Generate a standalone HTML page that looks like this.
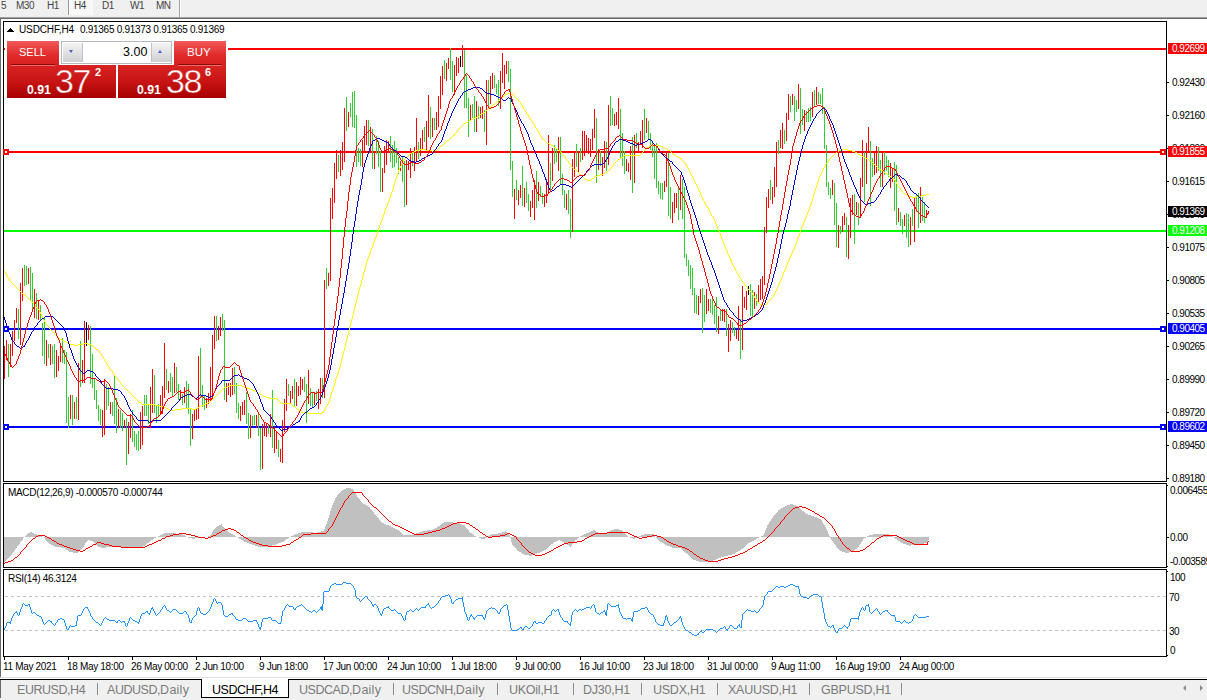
<!DOCTYPE html>
<html><head><meta charset="utf-8"><title>USDCHF,H4</title><style>
html,body{margin:0;padding:0;background:#fff;}
body{width:1207px;height:700px;position:relative;overflow:hidden;font-family:"Liberation Sans",sans-serif;}
.a{position:absolute;}
.t{position:absolute;white-space:nowrap;line-height:1;color:#000;}
.ax{font-size:10px;letter-spacing:-0.5px;}
.sm{font-size:10px;letter-spacing:-0.32px;}
.lbl{position:absolute;left:1168px;width:39px;height:11px;}
.lbl span{position:absolute;left:4px;top:1px;font-size:10px;letter-spacing:-0.5px;line-height:1;color:#fff;white-space:nowrap;}
.tab{position:absolute;top:683px;font-size:12.5px;letter-spacing:-0.45px;color:#7a7a7a;white-space:nowrap;line-height:14px;}
.sep{position:absolute;top:683px;width:1px;height:12px;background:#8a8a8a;}
.tb{position:absolute;top:0px;font-size:10px;letter-spacing:-0.5px;color:#444;white-space:nowrap;line-height:12px;}
</style></head><body>
<div class="a" style="left:0;top:0;width:1207px;height:17px;background:#f0f0f0"></div>
<div class="a" style="left:0;top:17px;width:1207px;height:1px;background:#a0a0a0"></div>
<div class="a" style="left:0;top:18px;width:1207px;height:1px;background:#696969"></div>
<div class="a" style="left:69px;top:0;width:24px;height:15px;background:#f8f8f8"></div>
<div class="a" style="left:68px;top:0;width:1px;height:15px;background:#9a9a9a"></div>
<div class="a" style="left:179px;top:0;width:1px;height:17px;background:#a0a0a0"></div>
<div class="a" style="left:180px;top:0;width:1px;height:17px;background:#fff"></div>
<div class="tb" style="left:1px">5</div>
<div class="tb" style="left:16px">M30</div>
<div class="tb" style="left:47px">H1</div>
<div class="tb" style="left:74px">H4</div>
<div class="tb" style="left:102px">D1</div>
<div class="tb" style="left:130px">W1</div>
<div class="tb" style="left:156px">MN</div>
<div class="a" style="left:0;top:19px;width:1px;height:659px;background:#696969"></div>
<div class="a" style="left:3px;top:21px;width:1163px;height:1px;background:#000"></div>
<div class="a" style="left:3px;top:481px;width:1163px;height:1px;background:#000"></div>
<div class="a" style="left:3px;top:483px;width:1163px;height:1px;background:#000"></div>
<div class="a" style="left:3px;top:567px;width:1163px;height:1px;background:#000"></div>
<div class="a" style="left:3px;top:569px;width:1163px;height:1px;background:#000"></div>
<div class="a" style="left:3px;top:656px;width:1164px;height:1px;background:#000"></div>
<div class="a" style="left:3px;top:21px;width:1px;height:461px;background:#000"></div>
<div class="a" style="left:3px;top:483px;width:1px;height:85px;background:#000"></div>
<div class="a" style="left:3px;top:569px;width:1px;height:88px;background:#000"></div>
<div class="a" style="left:1166px;top:21px;width:1px;height:461px;background:#000"></div>
<div class="a" style="left:1166px;top:483px;width:1px;height:85px;background:#000"></div>
<div class="a" style="left:1166px;top:569px;width:1px;height:88px;background:#000"></div>
<div class="a" style="left:1167px;top:485px;width:1px;height:1px;background:#000"></div>
<div class="a" style="left:1167px;top:566px;width:1px;height:1px;background:#000"></div>
<div class="a" style="left:1167px;top:571px;width:1px;height:1px;background:#000"></div>
<div class="a" style="left:1167px;top:655px;width:1px;height:1px;background:#000"></div>
<svg class="a" style="left:0;top:0" width="1207" height="700" viewBox="0 0 1207 700">
<g shape-rendering="crispEdges">
<rect x="4" y="48" width="1162" height="2" fill="#ff0000"/>
<rect x="4" y="151" width="1162" height="2" fill="#ff0000"/>
<rect x="4" y="230" width="1162" height="2" fill="#00ff00"/>
<rect x="4" y="328" width="1162" height="2" fill="#0000ff"/>
<rect x="4" y="426" width="1162" height="2" fill="#0000ff"/>
<path d="M8.5 344V377M18.5 309V339M24.5 265V286M26.5 266V285M30.5 267V301M32.5 273V312M36.5 293V319M40.5 305V321M42.5 323V356M44.5 317V364M48.5 344V358M52.5 346V364M54.5 344V378M62.5 338V363M64.5 350V364M66.5 352V423M68.5 397V428M72.5 395V425M76.5 397V419M80.5 341V387M90.5 326V384M92.5 354V388M94.5 378V400M96.5 390V409M98.5 405V421M100.5 409V425M106.5 384V410M108.5 387V406M112.5 402V416M114.5 376V424M116.5 398V433M120.5 410V428M122.5 413V431M126.5 418V465M132.5 410V442M134.5 431V447M136.5 434V450M138.5 431V451M144.5 395V416M146.5 395V416M148.5 404V424M154.5 375V413M156.5 405V423M158.5 404V417M166.5 369V390M170.5 373V392M172.5 377V397M176.5 367V392M178.5 384V400M182.5 394V405M186.5 381V408M188.5 384V414M190.5 409V446M200.5 348V397M202.5 385V407M204.5 396V410M216.5 316V341M222.5 314V331M224.5 320V400M234.5 367V394M236.5 383V413M238.5 403V419M246.5 392V424M248.5 413V439M252.5 416V426M254.5 415V425M258.5 413V436M260.5 428V470M268.5 424V434M272.5 390V448M278.5 440V457M288.5 384V396M294.5 379V407M304.5 377V392M306.5 384V423M310.5 388V406M312.5 393V407M316.5 391V401M322.5 378V398M326.5 268V289M338.5 155V172M346.5 97V131M350.5 103V117M352.5 92V127M354.5 91V128M356.5 115V167M358.5 148V162M360.5 149V166M368.5 120V146M372.5 129V169M376.5 136V154M378.5 141V167M380.5 151V192M390.5 136V162M392.5 145V168M394.5 141V167M396.5 148V163M398.5 157V174M402.5 157V182M404.5 161V207M412.5 152V166M418.5 142V159M424.5 127V142M430.5 107V139M434.5 118V130M444.5 60V79M450.5 48V80M452.5 61V92M464.5 50V108M466.5 75V108M468.5 98V137M472.5 104V118M474.5 96V132M478.5 106V119M484.5 110V132M488.5 80V108M494.5 75V88M496.5 84V94M498.5 80V106M508.5 61V82M510.5 69V170M512.5 161V197M516.5 180V200M522.5 166V206M526.5 182V203M528.5 194V211M536.5 171V208M540.5 186V197M542.5 193V204M550.5 163V191M554.5 145V164M556.5 148V162M560.5 137V184M562.5 174V195M564.5 190V208M568.5 190V214M570.5 199V238M576.5 144V167M580.5 148V162M596.5 118V183M600.5 151V166M606.5 142V171M610.5 96V126M612.5 108V125M620.5 109V158M622.5 133V166M624.5 151V174M632.5 137V193M636.5 133V148M644.5 109V140M648.5 121V140M650.5 133V150M652.5 143V157M654.5 144V179M656.5 143V188M658.5 181V194M660.5 183V199M662.5 183V200M668.5 153V216M670.5 187V219M678.5 186V220M682.5 179V219M684.5 187V258M686.5 254V266M688.5 260V276M690.5 265V289M692.5 268V295M694.5 288V313M696.5 295V314M702.5 288V333M704.5 295V322M710.5 299V313M712.5 299V315M714.5 305V324M716.5 297V332M720.5 310V321M726.5 309V336M732.5 322V333M734.5 327V336M740.5 319V359M750.5 284V316M752.5 290V318M756.5 294V306M770.5 180V200M778.5 140V154M784.5 130V144M790.5 96V112M794.5 96V121M796.5 100V112M800.5 88V134M802.5 109V125M806.5 111V122M808.5 108V122M810.5 107V121M814.5 90V107M818.5 92V104M820.5 94V104M822.5 88V114M824.5 107V149M826.5 145V187M828.5 182V195M830.5 188V199M834.5 183V225M836.5 203V247M840.5 226V234M846.5 217V257M854.5 194V244M858.5 203V225M864.5 152V202M870.5 141V206M872.5 158V177M878.5 147V171M880.5 160V187M884.5 152V175M886.5 156V171M888.5 160V177M894.5 162V211M896.5 165V225M900.5 212V226M902.5 219V234M906.5 213V238M908.5 214V247M912.5 209V226M916.5 195V212M918.5 193V228M922.5 197V221M924.5 202V223" stroke="#32cd32" stroke-width="1" fill="none"/>
<path d="M4.5 346V379M6.5 340V360M10.5 344V367M12.5 331V356M14.5 320V341M16.5 308V323M20.5 283V345M22.5 268V301M28.5 268V284M34.5 289V318M38.5 301V320M46.5 340V366M50.5 344V365M56.5 350V377M58.5 356V371M60.5 346V362M70.5 395V419M74.5 402V419M78.5 363V420M82.5 360V383M84.5 321V383M88.5 325V340M102.5 410V437M104.5 379V435M110.5 402V414M118.5 409V428M124.5 420V428M128.5 422V454M130.5 414V438M140.5 412V449M142.5 406V445M150.5 387V428M152.5 369V413M160.5 395V415M162.5 386V414M164.5 343V398M168.5 381V393M174.5 363V393M180.5 390V400M184.5 387V403M192.5 414V439M194.5 410V421M196.5 408V420M198.5 356V419M206.5 398V408M208.5 393V404M210.5 367V402M212.5 335V400M214.5 316V349M218.5 326V340M220.5 317V336M226.5 383V402M228.5 383V395M230.5 383V397M232.5 368V395M240.5 406V421M242.5 402V415M244.5 400V415M250.5 415V438M256.5 415V428M262.5 424V469M264.5 423V436M266.5 424V437M270.5 414V437M274.5 427V453M276.5 432V449M280.5 449V462M282.5 420V463M284.5 399V432M286.5 379V411M290.5 391V404M292.5 386V399M296.5 382V406M298.5 386V396M300.5 377V395M302.5 379V390M308.5 370V404M314.5 393V405M318.5 389V409M320.5 378V404M324.5 280V398M328.5 273V286M330.5 198V281M332.5 188V219M334.5 163V203M336.5 150V179M340.5 150V176M342.5 142V170M344.5 108V162M348.5 112V127M362.5 140V167M364.5 126V153M366.5 120V145M370.5 127V151M374.5 152V169M382.5 168V192M384.5 146V173M386.5 140V165M388.5 141V152M400.5 161V171M406.5 160V205M408.5 161V170M410.5 148V178M414.5 147V171M416.5 118V162M420.5 138V156M422.5 130V149M426.5 121V150M428.5 95V137M432.5 118V137M436.5 112V130M438.5 96V127M440.5 76V109M442.5 66V95M446.5 63V81M448.5 58V69M454.5 65V95M456.5 57V76M458.5 58V73M462.5 45V67M470.5 105V121M476.5 101V132M480.5 107V118M482.5 106V119M486.5 80V145M490.5 76V104M492.5 73V89M500.5 71V109M502.5 53V83M504.5 65V89M506.5 61V74M514.5 189V219M518.5 190V205M520.5 185V198M524.5 188V207M530.5 201V217M532.5 190V208M534.5 180V220M538.5 182V201M544.5 194V207M546.5 179V203M548.5 135V193M552.5 148V181M558.5 137V171M566.5 194V210M572.5 159V232M574.5 152V177M578.5 151V172M582.5 131V160M584.5 131V156M586.5 135V153M588.5 138V154M590.5 139V157M592.5 129V150M594.5 109V138M598.5 149V170M602.5 157V176M604.5 141V168M608.5 105V165M614.5 114V126M616.5 112V125M618.5 98V129M626.5 159V171M628.5 163V172M630.5 146V180M634.5 135V183M638.5 142V153M640.5 131V145M642.5 120V148M646.5 118V133M664.5 181V192M666.5 152V187M672.5 202V223M674.5 193V213M676.5 193V208M680.5 175V210M698.5 296V315M700.5 289V303M706.5 289V314M708.5 299V311M718.5 316V334M722.5 309V321M724.5 309V322M728.5 324V352M730.5 320V341M736.5 330V339M738.5 306V341M742.5 286V350M744.5 297V308M746.5 291V310M754.5 292V309M758.5 285V302M760.5 279V300M762.5 276V299M764.5 227V285M766.5 197V233M768.5 189V208M772.5 187V204M774.5 167V197M776.5 142V187M780.5 130V148M782.5 123V149M786.5 113V141M788.5 94V120M792.5 94V105M798.5 84V109M804.5 110V131M812.5 92V117M816.5 87V105M832.5 180V195M838.5 225V248M842.5 216V232M844.5 213V225M848.5 225V259M850.5 198V238M852.5 195V215M856.5 202V215M860.5 178V218M862.5 140V187M866.5 143V184M868.5 127V153M874.5 152V175M876.5 146V173M882.5 151V187M890.5 163V188M892.5 168V182M898.5 208V222M904.5 215V226M910.5 217V245M914.5 197V242M920.5 187V223M926.5 210V218M928.5 211V214" stroke="#ff0000" stroke-width="1" fill="none"/>
<path d="M86.5 322V346M460.5 56V67M748.5 286V295" stroke="#000000" stroke-width="1" fill="none"/>
</g>
<g shape-rendering="crispEdges" stroke-linejoin="round">
<path d="M4.5 271V272M5.5 272V274M6.5 274V276M7.5 276V278M8.5 278V279M9.5 279V281M10.5 281V282M11.5 282V283M12.5 283V284M13.5 284V285M14.5 285V286M15.5 286V287M16.5 287V288M17.5 288V289M18.5 289V290M19.5 290V291M20.5 291V292M21.5 292V293M22.5 293V294M23.5 294V295M24.5 294V295M25.5 295V296M26.5 296V297M27.5 297V298M28.5 298V299M29.5 299V300M30.5 300V301M31.5 301V302M32.5 302V303M33.5 303V304M34.5 304V305M35.5 305V307M36.5 307V308M37.5 308V309M38.5 309V310M39.5 310V312M40.5 312V314M41.5 314V316M42.5 316V318M43.5 318V320M44.5 320V322M45.5 322V324M46.5 324V325M47.5 325V326M48.5 326V327M49.5 327V329M50.5 329V330M51.5 330V331M52.5 331V332M53.5 332V333M54.5 333V334M55.5 334V335M56.5 335V336M57.5 336V337M58.5 337V338M59.5 338V339M60.5 339V340M61.5 339V340M62.5 340V341M63.5 340V341M64.5 341V342M65.5 341V342M66.5 342V343M67.5 342V343M68.5 343V344M69.5 343V344M70.5 344V345M71.5 344V345M72.5 344V345M73.5 344V345M74.5 345V346M75.5 345V346M76.5 345V346M77.5 345V346M78.5 344V345M79.5 344V345M80.5 344V345M81.5 344V345M82.5 344V345M83.5 343V344M84.5 343V344M85.5 343V344M86.5 343V344M87.5 343V344M88.5 344V345M89.5 344V345M90.5 344V345M91.5 345V346M92.5 345V346M93.5 346V347M94.5 347V348M95.5 348V349M96.5 349V350M97.5 349V350M98.5 350V351M99.5 351V353M100.5 353V354M101.5 354V356M102.5 356V357M103.5 357V359M104.5 359V361M105.5 361V362M106.5 362V364M107.5 364V366M108.5 366V367M109.5 367V369M110.5 369V370M111.5 370V371M112.5 371V373M113.5 373V374M114.5 374V376M115.5 376V377M116.5 377V378M117.5 378V380M118.5 380V381M119.5 381V382M120.5 382V384M121.5 384V385M122.5 385V386M123.5 386V387M124.5 387V388M125.5 388V389M126.5 389V390M127.5 390V391M128.5 391V392M129.5 392V393M130.5 393V394M131.5 394V395M132.5 395V396M133.5 396V397M134.5 397V398M135.5 398V399M136.5 399V400M137.5 400V401M138.5 401V402M139.5 402V403M140.5 402V403M141.5 403V404M142.5 404V405M143.5 404V405M144.5 404V405M145.5 404V405M146.5 404V405M147.5 404V405M148.5 404V405M149.5 404V405M150.5 404V405M151.5 404V405M152.5 404V405M153.5 404V405M154.5 404V405M155.5 405V406M156.5 405V406M157.5 405V406M158.5 405V406M159.5 405V406M160.5 406V407M161.5 406V407M162.5 406V407M163.5 407V408M164.5 407V408M165.5 407V408M166.5 408V409M167.5 408V409M168.5 409V410M169.5 409V410M170.5 410V411M171.5 410V411M172.5 410V411M173.5 410V411M174.5 410V411M175.5 409V410M176.5 409V410M177.5 409V410M178.5 409V410M179.5 409V410M180.5 409V410M181.5 409V410M182.5 408V409M183.5 408V409M184.5 408V409M185.5 408V409M186.5 408V409M187.5 408V409M188.5 408V409M189.5 408V409M190.5 408V409M191.5 408V409M192.5 409V410M193.5 409V410M194.5 409V410M195.5 409V410M196.5 408V409M197.5 408V409M198.5 407V408M199.5 406V407M200.5 406V407M201.5 405V406M202.5 405V406M203.5 405V406M204.5 404V405M205.5 404V405M206.5 403V404M207.5 403V404M208.5 402V403M209.5 402V403M210.5 401V402M211.5 400V401M212.5 399V400M213.5 398V399M214.5 397V398M215.5 396V397M216.5 395V396M217.5 394V395M218.5 393V394M219.5 392V393M220.5 391V392M221.5 390V391M222.5 389V390M223.5 388V389M224.5 387V388M225.5 387V388M226.5 387V388M227.5 386V387M228.5 386V387M229.5 386V387M230.5 385V386M231.5 385V386M232.5 385V386M233.5 385V386M234.5 385V386M235.5 385V386M236.5 385V386M237.5 385V386M238.5 385V386M239.5 385V386M240.5 385V386M241.5 385V386M242.5 386V387M243.5 386V387M244.5 387V388M245.5 387V388M246.5 387V388M247.5 388V389M248.5 388V389M249.5 388V389M250.5 389V390M251.5 389V390M252.5 390V391M253.5 390V391M254.5 390V391M255.5 391V392M256.5 391V392M257.5 392V393M258.5 393V394M259.5 393V394M260.5 394V395M261.5 394V395M262.5 395V396M263.5 396V397M264.5 396V397M265.5 396V397M266.5 397V398M267.5 397V398M268.5 397V398M269.5 398V399M270.5 398V399M271.5 398V399M272.5 398V399M273.5 398V399M274.5 398V399M275.5 398V399M276.5 398V399M277.5 399V400M278.5 400V401M279.5 401V402M280.5 402V403M281.5 403V404M282.5 403V404M283.5 403V404M284.5 403V404M285.5 403V404M286.5 403V404M287.5 403V404M288.5 403V404M289.5 403V404M290.5 403V404M291.5 404V405M292.5 405V406M293.5 406V407M294.5 406V407M295.5 407V408M296.5 408V409M297.5 409V410M298.5 409V410M299.5 410V411M300.5 411V412M301.5 412V413M302.5 412V413M303.5 412V413M304.5 412V413M305.5 412V413M306.5 412V413M307.5 412V413M308.5 413V414M309.5 413V414M310.5 413V414M311.5 413V414M312.5 413V414M313.5 413V414M314.5 413V414M315.5 413V414M316.5 413V414M317.5 413V414M318.5 413V414M319.5 413V414M320.5 413V414M321.5 413V414M322.5 412V413M323.5 411V413M324.5 409V411M325.5 407V409M326.5 406V407M327.5 404V406M328.5 402V404M329.5 399V402M330.5 395V399M331.5 392V395M332.5 389V392M333.5 386V389M334.5 383V386M335.5 379V383M336.5 376V379M337.5 373V376M338.5 370V373M339.5 367V370M340.5 363V367M341.5 359V363M342.5 355V359M343.5 351V355M344.5 347V351M345.5 343V347M346.5 339V343M347.5 335V339M348.5 331V335M349.5 327V331M350.5 323V327M351.5 319V323M352.5 315V319M353.5 311V315M354.5 307V311M355.5 303V307M356.5 299V303M357.5 295V299M358.5 291V295M359.5 287V291M360.5 284V287M361.5 280V284M362.5 276V280M363.5 272V276M364.5 269V272M365.5 265V269M366.5 261V265M367.5 259V261M368.5 256V259M369.5 253V256M370.5 250V253M371.5 248V250M372.5 245V248M373.5 242V245M374.5 239V242M375.5 237V239M376.5 234V237M377.5 231V234M378.5 228V231M379.5 225V228M380.5 222V225M381.5 220V222M382.5 217V220M383.5 214V217M384.5 211V214M385.5 208V211M386.5 206V208M387.5 203V206M388.5 201V203M389.5 198V201M390.5 195V198M391.5 192V195M392.5 189V192M393.5 185V189M394.5 182V185M395.5 179V182M396.5 176V179M397.5 173V176M398.5 170V173M399.5 168V170M400.5 166V168M401.5 164V166M402.5 162V164M403.5 160V162M404.5 159V160M405.5 158V159M406.5 157V158M407.5 156V157M408.5 155V156M409.5 154V155M410.5 153V154M411.5 153V154M412.5 152V153M413.5 152V153M414.5 151V152M415.5 151V152M416.5 150V151M417.5 150V151M418.5 150V151M419.5 149V150M420.5 149V150M421.5 149V150M422.5 149V150M423.5 149V150M424.5 149V150M425.5 149V150M426.5 150V151M427.5 150V151M428.5 150V151M429.5 150V151M430.5 150V151M431.5 150V151M432.5 151V152M433.5 150V151M434.5 150V151M435.5 150V151M436.5 150V151M437.5 149V150M438.5 148V149M439.5 147V148M440.5 146V147M441.5 145V146M442.5 145V146M443.5 144V145M444.5 143V144M445.5 142V143M446.5 141V142M447.5 140V141M448.5 140V141M449.5 139V140M450.5 138V139M451.5 137V138M452.5 136V137M453.5 135V136M454.5 134V136M455.5 133V134M456.5 132V133M457.5 130V132M458.5 129V130M459.5 128V129M460.5 127V128M461.5 126V127M462.5 125V126M463.5 124V125M464.5 123V124M465.5 123V124M466.5 122V123M467.5 122V123M468.5 121V122M469.5 120V121M470.5 120V121M471.5 119V120M472.5 119V120M473.5 118V119M474.5 118V119M475.5 117V118M476.5 117V118M477.5 116V117M478.5 116V117M479.5 115V116M480.5 114V115M481.5 114V115M482.5 113V114M483.5 113V114M484.5 112V113M485.5 111V112M486.5 110V111M487.5 109V110M488.5 108V109M489.5 107V108M490.5 107V108M491.5 106V107M492.5 105V106M493.5 104V105M494.5 104V105M495.5 103V104M496.5 102V103M497.5 101V102M498.5 100V101M499.5 99V100M500.5 99V100M501.5 98V99M502.5 97V98M503.5 96V97M504.5 95V96M505.5 94V95M506.5 94V95M507.5 93V94M508.5 93V94M509.5 93V94M510.5 93V94M511.5 94V95M512.5 94V95M513.5 95V96M514.5 96V97M515.5 97V98M516.5 98V99M517.5 99V100M518.5 100V101M519.5 101V102M520.5 102V104M521.5 104V105M522.5 105V107M523.5 107V109M524.5 109V110M525.5 110V112M526.5 112V114M527.5 114V115M528.5 115V117M529.5 117V118M530.5 118V120M531.5 120V121M532.5 121V123M533.5 123V124M534.5 124V126M535.5 126V128M536.5 128V129M537.5 129V131M538.5 131V133M539.5 133V135M540.5 135V136M541.5 136V138M542.5 138V139M543.5 139V140M544.5 140V141M545.5 141V142M546.5 142V143M547.5 143V144M548.5 143V144M549.5 144V145M550.5 144V145M551.5 145V146M552.5 145V146M553.5 146V147M554.5 147V148M555.5 147V148M556.5 148V149M557.5 149V150M558.5 150V151M559.5 150V151M560.5 151V152M561.5 152V154M562.5 154V155M563.5 155V156M564.5 156V157M565.5 157V159M566.5 159V160M567.5 160V161M568.5 161V163M569.5 163V164M570.5 164V165M571.5 165V167M572.5 167V168M573.5 168V169M574.5 169V170M575.5 169V170M576.5 170V171M577.5 171V172M578.5 172V173M579.5 173V174M580.5 174V175M581.5 175V176M582.5 176V177M583.5 177V178M584.5 178V179M585.5 179V180M586.5 179V180M587.5 180V181M588.5 180V181M589.5 180V181M590.5 180V181M591.5 179V180M592.5 178V179M593.5 178V179M594.5 177V178M595.5 176V177M596.5 176V177M597.5 175V176M598.5 175V176M599.5 175V176M600.5 174V175M601.5 174V175M602.5 174V175M603.5 173V174M604.5 173V174M605.5 172V173M606.5 172V173M607.5 171V172M608.5 170V171M609.5 169V170M610.5 168V169M611.5 167V168M612.5 165V167M613.5 164V165M614.5 163V164M615.5 162V163M616.5 161V162M617.5 160V161M618.5 159V160M619.5 159V160M620.5 158V159M621.5 157V158M622.5 157V158M623.5 156V157M624.5 155V156M625.5 155V156M626.5 155V156M627.5 155V156M628.5 155V156M629.5 155V156M630.5 155V156M631.5 155V156M632.5 155V156M633.5 155V156M634.5 155V156M635.5 155V156M636.5 155V156M637.5 155V156M638.5 155V156M639.5 155V156M640.5 154V155M641.5 153V154M642.5 152V153M643.5 151V152M644.5 150V151M645.5 149V150M646.5 148V149M647.5 147V148M648.5 147V148M649.5 146V147M650.5 145V146M651.5 145V146M652.5 145V146M653.5 145V146M654.5 145V146M655.5 145V146M656.5 145V146M657.5 144V145M658.5 145V146M659.5 145V146M660.5 146V147M661.5 146V147M662.5 146V147M663.5 147V148M664.5 147V148M665.5 148V149M666.5 148V149M667.5 149V150M668.5 150V151M669.5 150V151M670.5 151V152M671.5 152V153M672.5 153V154M673.5 154V155M674.5 154V155M675.5 155V156M676.5 156V157M677.5 156V157M678.5 157V158M679.5 157V158M680.5 158V159M681.5 158V160M682.5 160V161M683.5 161V162M684.5 162V163M685.5 163V164M686.5 164V166M687.5 166V168M688.5 168V170M689.5 170V172M690.5 172V174M691.5 174V176M692.5 176V178M693.5 178V180M694.5 180V182M695.5 182V184M696.5 184V186M697.5 186V188M698.5 188V190M699.5 190V192M700.5 192V195M701.5 195V197M702.5 197V199M703.5 199V201M704.5 201V203M705.5 203V205M706.5 205V206M707.5 206V208M708.5 208V210M709.5 210V212M710.5 212V214M711.5 214V216M712.5 216V217M713.5 217V219M714.5 219V221M715.5 221V224M716.5 224V226M717.5 226V229M718.5 229V231M719.5 231V233M720.5 233V236M721.5 236V239M722.5 239V241M723.5 241V244M724.5 244V247M725.5 247V249M726.5 249V251M727.5 251V254M728.5 254V256M729.5 256V258M730.5 258V261M731.5 261V263M732.5 263V265M733.5 265V267M734.5 267V269M735.5 269V271M736.5 271V273M737.5 273V274M738.5 274V276M739.5 276V278M740.5 278V279M741.5 279V281M742.5 281V282M743.5 282V283M744.5 283V285M745.5 285V286M746.5 286V287M747.5 287V289M748.5 289V290M749.5 290V291M750.5 291V292M751.5 292V293M752.5 293V295M753.5 295V296M754.5 296V298M755.5 298V299M756.5 299V301M757.5 301V302M758.5 302V303M759.5 303V304M760.5 304V305M761.5 304V305M762.5 305V306M763.5 305V306M764.5 304V305M765.5 304V305M766.5 304V305M767.5 302V304M768.5 301V302M769.5 300V301M770.5 299V300M771.5 298V299M772.5 297V298M773.5 295V297M774.5 293V295M775.5 291V293M776.5 289V291M777.5 287V289M778.5 284V287M779.5 282V284M780.5 280V282M781.5 277V280M782.5 275V277M783.5 272V275M784.5 270V272M785.5 267V270M786.5 265V267M787.5 262V265M788.5 260V262M789.5 258V260M790.5 256V258M791.5 253V256M792.5 251V253M793.5 249V251M794.5 247V249M795.5 244V247M796.5 241V244M797.5 238V241M798.5 236V238M799.5 233V236M800.5 230V233M801.5 227V230M802.5 225V227M803.5 222V225M804.5 220V222M805.5 217V220M806.5 215V217M807.5 212V215M808.5 210V212M809.5 207V210M810.5 204V207M811.5 201V204M812.5 198V201M813.5 194V198M814.5 191V194M815.5 188V191M816.5 185V188M817.5 182V185M818.5 178V182M819.5 176V178M820.5 174V176M821.5 172V174M822.5 170V172M823.5 168V170M824.5 166V168M825.5 164V166M826.5 163V164M827.5 162V163M828.5 160V162M829.5 159V160M830.5 158V159M831.5 157V158M832.5 156V157M833.5 155V156M834.5 154V155M835.5 153V154M836.5 152V153M837.5 151V152M838.5 151V152M839.5 150V151M840.5 150V151M841.5 149V150M842.5 149V150M843.5 148V149M844.5 149V150M845.5 149V150M846.5 149V150M847.5 149V150M848.5 150V151M849.5 150V151M850.5 150V151M851.5 150V151M852.5 151V152M853.5 151V152M854.5 151V152M855.5 152V153M856.5 152V153M857.5 153V154M858.5 154V155M859.5 154V155M860.5 155V156M861.5 155V156M862.5 156V157M863.5 156V157M864.5 157V158M865.5 157V158M866.5 158V159M867.5 158V159M868.5 159V160M869.5 160V161M870.5 160V161M871.5 161V162M872.5 162V163M873.5 163V164M874.5 164V165M875.5 165V166M876.5 166V167M877.5 167V168M878.5 168V169M879.5 168V169M880.5 169V170M881.5 170V171M882.5 170V171M883.5 171V172M884.5 172V173M885.5 173V174M886.5 173V174M887.5 174V175M888.5 175V176M889.5 176V177M890.5 176V177M891.5 177V178M892.5 178V179M893.5 178V179M894.5 179V180M895.5 180V182M896.5 182V184M897.5 184V186M898.5 186V187M899.5 187V188M900.5 188V190M901.5 190V191M902.5 191V192M903.5 192V193M904.5 193V194M905.5 194V195M906.5 194V195M907.5 195V196M908.5 196V197M909.5 196V197M910.5 196V197M911.5 196V197M912.5 197V198M913.5 197V198M914.5 197V198M915.5 197V198M916.5 196V197M917.5 196V197M918.5 196V197M919.5 196V197M920.5 196V197M921.5 195V196M922.5 195V196M923.5 195V196M924.5 195V196M925.5 195V196M926.5 194V195M927.5 194V195M928.5 194V195" stroke="#ffff00" stroke-width="1" fill="none" shape-rendering="crispEdges"/>
<path d="M4.5 317V320M5.5 320V323M6.5 323V326M7.5 326V329M8.5 329V332M9.5 332V334M10.5 334V337M11.5 337V340M12.5 340V341M13.5 341V342M14.5 342V344M15.5 344V345M16.5 345V346M17.5 346V347M18.5 346V347M19.5 347V348M20.5 348V349M21.5 347V348M22.5 347V348M23.5 346V347M24.5 345V347M25.5 343V345M26.5 341V343M27.5 340V341M28.5 338V340M29.5 336V338M30.5 334V336M31.5 332V334M32.5 331V332M33.5 329V331M34.5 327V329M35.5 326V327M36.5 325V326M37.5 323V325M38.5 322V323M39.5 321V322M40.5 320V321M41.5 319V320M42.5 318V319M43.5 318V319M44.5 317V318M45.5 316V317M46.5 316V317M47.5 316V317M48.5 316V317M49.5 316V317M50.5 316V317M51.5 316V317M52.5 316V317M53.5 317V318M54.5 318V319M55.5 319V320M56.5 320V321M57.5 321V322M58.5 322V323M59.5 323V324M60.5 324V325M61.5 325V326M62.5 326V327M63.5 327V329M64.5 329V331M65.5 331V333M66.5 333V337M67.5 337V341M68.5 341V344M69.5 344V348M70.5 348V350M71.5 350V353M72.5 353V356M73.5 356V359M74.5 359V361M75.5 361V363M76.5 363V365M77.5 365V367M78.5 367V368M79.5 368V370M80.5 370V371M81.5 371V372M82.5 372V373M83.5 373V374M84.5 373V374M85.5 372V373M86.5 371V372M87.5 370V371M88.5 370V371M89.5 370V371M90.5 371V372M91.5 371V372M92.5 371V372M93.5 372V373M94.5 373V374M95.5 374V376M96.5 376V377M97.5 377V378M98.5 378V379M99.5 379V380M100.5 380V382M101.5 382V384M102.5 384V385M103.5 385V386M104.5 386V387M105.5 387V388M106.5 388V389M107.5 388V389M108.5 388V389M109.5 388V389M110.5 388V389M111.5 388V389M112.5 388V389M113.5 389V390M114.5 389V390M115.5 389V390M116.5 389V390M117.5 389V390M118.5 390V391M119.5 390V391M120.5 391V392M121.5 392V394M122.5 394V395M123.5 395V396M124.5 396V398M125.5 398V400M126.5 400V402M127.5 402V405M128.5 405V407M129.5 407V409M130.5 409V411M131.5 411V412M132.5 412V414M133.5 414V415M134.5 415V416M135.5 416V417M136.5 417V419M137.5 419V420M138.5 420V421M139.5 420V421M140.5 420V421M141.5 420V421M142.5 420V421M143.5 420V421M144.5 420V421M145.5 420V421M146.5 420V421M147.5 420V421M148.5 421V422M149.5 422V423M150.5 421V422M151.5 421V422M152.5 420V421M153.5 420V421M154.5 420V421M155.5 420V421M156.5 420V421M157.5 420V421M158.5 420V421M159.5 420V421M160.5 420V421M161.5 419V420M162.5 418V419M163.5 417V418M164.5 416V417M165.5 415V416M166.5 414V415M167.5 413V414M168.5 412V413M169.5 411V412M170.5 410V411M171.5 408V410M172.5 407V408M173.5 406V407M174.5 405V406M175.5 404V405M176.5 403V404M177.5 402V403M178.5 401V402M179.5 399V401M180.5 398V399M181.5 397V398M182.5 397V398M183.5 396V397M184.5 396V397M185.5 395V396M186.5 395V396M187.5 394V395M188.5 394V395M189.5 394V395M190.5 394V395M191.5 395V396M192.5 396V397M193.5 396V397M194.5 397V398M195.5 398V399M196.5 398V399M197.5 397V398M198.5 396V397M199.5 395V396M200.5 394V395M201.5 395V396M202.5 395V396M203.5 395V396M204.5 395V396M205.5 395V396M206.5 396V397M207.5 396V397M208.5 397V398M209.5 397V398M210.5 396V397M211.5 396V397M212.5 395V396M213.5 393V395M214.5 391V393M215.5 389V391M216.5 387V389M217.5 386V387M218.5 385V386M219.5 384V385M220.5 383V384M221.5 381V383M222.5 380V381M223.5 380V381M224.5 380V381M225.5 380V381M226.5 380V381M227.5 380V381M228.5 380V381M229.5 380V381M230.5 379V380M231.5 378V379M232.5 377V378M233.5 376V377M234.5 375V376M235.5 375V376M236.5 375V376M237.5 375V376M238.5 374V375M239.5 375V376M240.5 376V377M241.5 376V377M242.5 377V378M243.5 377V378M244.5 378V379M245.5 378V379M246.5 378V379M247.5 379V380M248.5 379V380M249.5 380V381M250.5 381V382M251.5 382V383M252.5 383V384M253.5 384V386M254.5 386V388M255.5 388V390M256.5 390V392M257.5 392V394M258.5 394V396M259.5 396V399M260.5 399V402M261.5 402V404M262.5 404V407M263.5 407V410M264.5 410V411M265.5 411V412M266.5 412V413M267.5 413V414M268.5 414V415M269.5 415V416M270.5 416V417M271.5 417V419M272.5 419V420M273.5 420V422M274.5 422V423M275.5 423V425M276.5 425V426M277.5 426V427M278.5 427V428M279.5 428V429M280.5 429V430M281.5 430V431M282.5 430V431M283.5 429V430M284.5 429V430M285.5 429V430M286.5 429V430M287.5 428V429M288.5 428V429M289.5 427V428M290.5 426V427M291.5 426V427M292.5 425V426M293.5 424V425M294.5 424V425M295.5 423V424M296.5 422V423M297.5 422V423M298.5 421V422M299.5 420V422M300.5 418V420M301.5 416V418M302.5 415V416M303.5 414V415M304.5 413V414M305.5 412V413M306.5 412V413M307.5 411V412M308.5 410V411M309.5 409V410M310.5 408V409M311.5 408V409M312.5 407V408M313.5 407V408M314.5 406V407M315.5 405V406M316.5 403V405M317.5 402V403M318.5 400V402M319.5 399V400M320.5 397V399M321.5 395V397M322.5 392V395M323.5 389V392M324.5 387V389M325.5 384V387M326.5 381V384M327.5 378V381M328.5 374V378M329.5 370V374M330.5 365V370M331.5 359V365M332.5 354V359M333.5 348V354M334.5 343V348M335.5 337V343M336.5 331V337M337.5 326V331M338.5 320V326M339.5 315V320M340.5 309V315M341.5 304V309M342.5 298V304M343.5 293V298M344.5 287V293M345.5 281V287M346.5 275V281M347.5 269V275M348.5 263V269M349.5 256V263M350.5 249V256M351.5 242V249M352.5 234V242M353.5 227V234M354.5 221V227M355.5 214V221M356.5 207V214M357.5 201V207M358.5 195V201M359.5 190V195M360.5 185V190M361.5 179V185M362.5 172V179M363.5 167V172M364.5 163V167M365.5 160V163M366.5 157V160M367.5 154V157M368.5 151V154M369.5 148V151M370.5 146V148M371.5 144V146M372.5 141V144M373.5 140V141M374.5 140V141M375.5 139V140M376.5 138V139M377.5 138V139M378.5 138V139M379.5 138V139M380.5 139V140M381.5 139V140M382.5 140V141M383.5 140V141M384.5 141V142M385.5 141V142M386.5 142V143M387.5 142V143M388.5 143V144M389.5 144V146M390.5 146V147M391.5 147V148M392.5 148V149M393.5 149V150M394.5 150V151M395.5 150V151M396.5 151V152M397.5 152V153M398.5 153V154M399.5 154V155M400.5 155V156M401.5 156V157M402.5 156V157M403.5 156V157M404.5 156V157M405.5 157V158M406.5 157V158M407.5 158V159M408.5 159V160M409.5 160V161M410.5 160V161M411.5 161V162M412.5 161V162M413.5 161V162M414.5 162V163M415.5 162V163M416.5 161V162M417.5 161V162M418.5 161V162M419.5 160V161M420.5 160V161M421.5 159V160M422.5 158V159M423.5 158V159M424.5 157V158M425.5 157V158M426.5 156V157M427.5 156V157M428.5 155V156M429.5 155V156M430.5 154V155M431.5 154V155M432.5 153V154M433.5 151V153M434.5 150V151M435.5 149V150M436.5 147V149M437.5 146V147M438.5 144V146M439.5 143V144M440.5 142V143M441.5 140V142M442.5 137V140M443.5 134V137M444.5 131V134M445.5 129V131M446.5 126V129M447.5 123V126M448.5 121V123M449.5 118V121M450.5 116V118M451.5 113V116M452.5 111V113M453.5 109V111M454.5 107V109M455.5 105V107M456.5 103V105M457.5 101V103M458.5 99V101M459.5 98V99M460.5 96V98M461.5 95V96M462.5 93V95M463.5 92V93M464.5 91V92M465.5 91V92M466.5 90V91M467.5 90V91M468.5 89V90M469.5 89V90M470.5 89V90M471.5 88V89M472.5 88V89M473.5 87V88M474.5 87V88M475.5 87V88M476.5 87V88M477.5 87V88M478.5 87V88M479.5 87V88M480.5 88V89M481.5 88V89M482.5 89V90M483.5 90V91M484.5 91V92M485.5 92V93M486.5 92V93M487.5 93V94M488.5 93V94M489.5 93V94M490.5 94V95M491.5 94V95M492.5 94V95M493.5 94V95M494.5 95V96M495.5 95V96M496.5 96V97M497.5 96V97M498.5 97V98M499.5 97V98M500.5 98V99M501.5 98V99M502.5 99V100M503.5 100V101M504.5 100V101M505.5 100V101M506.5 99V100M507.5 98V99M508.5 97V98M509.5 98V99M510.5 98V99M511.5 99V102M512.5 102V104M513.5 104V106M514.5 106V108M515.5 108V110M516.5 110V112M517.5 112V115M518.5 115V117M519.5 117V119M520.5 119V121M521.5 121V123M522.5 123V124M523.5 124V126M524.5 126V128M525.5 128V130M526.5 130V132M527.5 132V134M528.5 134V137M529.5 137V140M530.5 140V143M531.5 143V145M532.5 145V147M533.5 147V150M534.5 150V152M535.5 152V154M536.5 154V157M537.5 157V159M538.5 159V161M539.5 161V164M540.5 164V166M541.5 166V169M542.5 169V172M543.5 172V174M544.5 174V177M545.5 177V180M546.5 180V182M547.5 182V185M548.5 185V188M549.5 188V190M550.5 190V191M551.5 191V192M552.5 190V191M553.5 190V191M554.5 189V190M555.5 188V189M556.5 187V188M557.5 186V187M558.5 186V187M559.5 185V186M560.5 184V185M561.5 184V185M562.5 184V185M563.5 184V185M564.5 184V185M565.5 184V185M566.5 185V186M567.5 185V186M568.5 185V186M569.5 186V187M570.5 186V187M571.5 187V188M572.5 186V187M573.5 185V186M574.5 184V185M575.5 183V184M576.5 182V183M577.5 181V182M578.5 180V181M579.5 179V180M580.5 178V179M581.5 177V178M582.5 176V177M583.5 175V176M584.5 174V175M585.5 173V174M586.5 171V173M587.5 170V171M588.5 169V170M589.5 168V169M590.5 167V168M591.5 166V167M592.5 165V166M593.5 165V166M594.5 164V165M595.5 164V165M596.5 164V165M597.5 164V165M598.5 164V165M599.5 164V165M600.5 164V165M601.5 164V165M602.5 164V165M603.5 163V164M604.5 162V163M605.5 160V162M606.5 159V160M607.5 157V159M608.5 155V157M609.5 152V155M610.5 150V152M611.5 148V150M612.5 146V148M613.5 145V146M614.5 143V145M615.5 142V143M616.5 141V142M617.5 141V142M618.5 140V141M619.5 139V140M620.5 139V140M621.5 139V140M622.5 139V140M623.5 140V141M624.5 140V141M625.5 140V141M626.5 141V142M627.5 141V142M628.5 142V143M629.5 142V143M630.5 143V144M631.5 143V144M632.5 143V144M633.5 144V145M634.5 144V145M635.5 145V146M636.5 145V146M637.5 144V145M638.5 144V145M639.5 144V145M640.5 143V144M641.5 143V144M642.5 143V144M643.5 142V143M644.5 142V143M645.5 141V142M646.5 141V142M647.5 140V141M648.5 139V140M649.5 139V140M650.5 139V140M651.5 140V141M652.5 141V143M653.5 143V144M654.5 144V145M655.5 145V146M656.5 146V147M657.5 147V148M658.5 148V150M659.5 150V151M660.5 151V153M661.5 153V154M662.5 154V155M663.5 155V156M664.5 156V157M665.5 157V158M666.5 158V159M667.5 158V159M668.5 159V160M669.5 160V161M670.5 161V162M671.5 161V162M672.5 162V164M673.5 164V165M674.5 165V166M675.5 166V167M676.5 167V168M677.5 168V169M678.5 169V170M679.5 170V171M680.5 171V172M681.5 172V175M682.5 175V177M683.5 177V180M684.5 180V183M685.5 183V186M686.5 186V190M687.5 190V193M688.5 193V196M689.5 196V200M690.5 200V203M691.5 203V206M692.5 206V209M693.5 209V212M694.5 212V215M695.5 215V218M696.5 218V221M697.5 221V225M698.5 225V228M699.5 228V231M700.5 231V234M701.5 234V237M702.5 237V240M703.5 240V243M704.5 243V246M705.5 246V249M706.5 249V252M707.5 252V255M708.5 255V257M709.5 257V260M710.5 260V262M711.5 262V265M712.5 265V268M713.5 268V270M714.5 270V273M715.5 273V276M716.5 276V279M717.5 279V282M718.5 282V285M719.5 285V288M720.5 288V291M721.5 291V294M722.5 294V297M723.5 297V300M724.5 300V302M725.5 302V303M726.5 303V305M727.5 305V307M728.5 307V308M729.5 308V310M730.5 310V311M731.5 311V312M732.5 312V313M733.5 313V315M734.5 315V316M735.5 316V317M736.5 317V318M737.5 318V319M738.5 319V320M739.5 319V320M740.5 320V321M741.5 321V322M742.5 321V322M743.5 320V321M744.5 320V321M745.5 320V321M746.5 320V321M747.5 319V320M748.5 319V320M749.5 318V319M750.5 318V319M751.5 317V318M752.5 317V318M753.5 316V317M754.5 316V317M755.5 315V316M756.5 314V315M757.5 314V315M758.5 313V314M759.5 312V313M760.5 311V312M761.5 310V311M762.5 308V310M763.5 305V308M764.5 303V305M765.5 300V303M766.5 297V300M767.5 294V297M768.5 291V294M769.5 288V291M770.5 285V288M771.5 282V285M772.5 278V282M773.5 274V278M774.5 271V274M775.5 267V271M776.5 263V267M777.5 258V263M778.5 254V258M779.5 249V254M780.5 244V249M781.5 239V244M782.5 234V239M783.5 230V234M784.5 227V230M785.5 223V227M786.5 219V223M787.5 214V219M788.5 210V214M789.5 206V210M790.5 200V206M791.5 195V200M792.5 190V195M793.5 185V190M794.5 180V185M795.5 175V180M796.5 170V175M797.5 165V170M798.5 161V165M799.5 157V161M800.5 153V157M801.5 149V153M802.5 145V149M803.5 142V145M804.5 139V142M805.5 136V139M806.5 134V136M807.5 131V134M808.5 129V131M809.5 127V129M810.5 125V127M811.5 123V125M812.5 121V123M813.5 119V121M814.5 118V119M815.5 116V118M816.5 114V116M817.5 113V114M818.5 112V113M819.5 111V112M820.5 110V111M821.5 109V110M822.5 108V109M823.5 108V109M824.5 108V109M825.5 109V110M826.5 110V112M827.5 112V114M828.5 114V116M829.5 116V119M830.5 119V121M831.5 121V123M832.5 123V125M833.5 125V128M834.5 128V131M835.5 131V134M836.5 134V137M837.5 137V140M838.5 140V143M839.5 143V146M840.5 146V149M841.5 149V152M842.5 152V156M843.5 156V159M844.5 159V162M845.5 162V164M846.5 164V167M847.5 167V169M848.5 169V172M849.5 172V175M850.5 175V177M851.5 177V180M852.5 180V182M853.5 182V185M854.5 185V187M855.5 187V189M856.5 189V192M857.5 192V194M858.5 194V196M859.5 196V198M860.5 198V200M861.5 200V201M862.5 201V202M863.5 202V203M864.5 203V204M865.5 204V205M866.5 204V205M867.5 204V205M868.5 203V204M869.5 203V204M870.5 203V204M871.5 202V203M872.5 202V203M873.5 202V203M874.5 201V202M875.5 200V201M876.5 198V200M877.5 197V198M878.5 195V197M879.5 194V195M880.5 192V194M881.5 190V192M882.5 189V190M883.5 187V189M884.5 186V187M885.5 185V186M886.5 183V185M887.5 182V183M888.5 181V182M889.5 179V181M890.5 178V179M891.5 178V179M892.5 177V178M893.5 176V177M894.5 175V176M895.5 174V175M896.5 174V175M897.5 175V176M898.5 175V176M899.5 175V176M900.5 176V177M901.5 177V178M902.5 178V179M903.5 178V179M904.5 179V180M905.5 180V181M906.5 181V183M907.5 183V185M908.5 185V186M909.5 186V188M910.5 188V190M911.5 190V191M912.5 191V192M913.5 192V193M914.5 193V194M915.5 193V194M916.5 194V195M917.5 195V196M918.5 196V197M919.5 197V198M920.5 198V200M921.5 200V201M922.5 201V202M923.5 202V203M924.5 203V204M925.5 204V205M926.5 205V206M927.5 206V207M928.5 207V208" stroke="#0000cd" stroke-width="1" fill="none" shape-rendering="crispEdges"/>
<path d="M4.5 352V354M5.5 354V356M6.5 356V358M7.5 358V361M8.5 361V362M9.5 362V364M10.5 364V365M11.5 365V367M12.5 367V368M13.5 366V367M14.5 365V366M15.5 364V365M16.5 361V364M17.5 359V361M18.5 356V359M19.5 354V356M20.5 350V354M21.5 346V350M22.5 342V346M23.5 338V342M24.5 334V338M25.5 330V334M26.5 327V330M27.5 323V327M28.5 320V323M29.5 317V320M30.5 315V317M31.5 312V315M32.5 309V312M33.5 307V309M34.5 304V307M35.5 302V304M36.5 301V302M37.5 300V301M38.5 300V301M39.5 300V301M40.5 299V300M41.5 300V301M42.5 300V301M43.5 301V302M44.5 302V304M45.5 304V305M46.5 305V307M47.5 307V309M48.5 309V312M49.5 312V314M50.5 314V317M51.5 317V320M52.5 320V323M53.5 323V326M54.5 326V330M55.5 330V333M56.5 333V336M57.5 336V338M58.5 338V340M59.5 340V343M60.5 343V346M61.5 346V348M62.5 348V350M63.5 350V353M64.5 353V355M65.5 355V357M66.5 357V360M67.5 360V362M68.5 362V364M69.5 364V366M70.5 366V369M71.5 369V371M72.5 371V373M73.5 373V375M74.5 375V377M75.5 377V378M76.5 378V380M77.5 380V381M78.5 381V382M79.5 381V382M80.5 380V381M81.5 380V381M82.5 380V381M83.5 380V381M84.5 379V380M85.5 379V380M86.5 378V379M87.5 377V378M88.5 377V378M89.5 377V378M90.5 377V378M91.5 378V379M92.5 378V379M93.5 378V379M94.5 378V379M95.5 378V379M96.5 379V380M97.5 380V381M98.5 380V381M99.5 381V382M100.5 382V383M101.5 381V382M102.5 381V382M103.5 381V382M104.5 380V381M105.5 380V381M106.5 381V382M107.5 382V383M108.5 383V384M109.5 384V386M110.5 386V388M111.5 388V390M112.5 390V393M113.5 393V395M114.5 395V398M115.5 398V400M116.5 400V402M117.5 402V405M118.5 405V407M119.5 407V408M120.5 408V409M121.5 409V410M122.5 410V411M123.5 411V412M124.5 412V413M125.5 413V414M126.5 414V415M127.5 415V416M128.5 415V416M129.5 415V416M130.5 415V416M131.5 415V416M132.5 416V418M133.5 418V420M134.5 420V422M135.5 422V423M136.5 423V424M137.5 424V425M138.5 425V426M139.5 426V427M140.5 426V427M141.5 427V428M142.5 427V428M143.5 427V428M144.5 427V428M145.5 427V428M146.5 427V428M147.5 426V427M148.5 426V427M149.5 425V427M150.5 423V425M151.5 422V423M152.5 420V422M153.5 419V420M154.5 418V419M155.5 418V419M156.5 417V418M157.5 417V418M158.5 416V417M159.5 415V416M160.5 414V415M161.5 411V414M162.5 409V411M163.5 406V409M164.5 404V406M165.5 402V404M166.5 401V402M167.5 399V401M168.5 398V399M169.5 398V399M170.5 397V398M171.5 397V398M172.5 396V397M173.5 396V397M174.5 395V396M175.5 394V395M176.5 393V394M177.5 392V393M178.5 391V392M179.5 391V392M180.5 391V392M181.5 392V393M182.5 392V393M183.5 392V393M184.5 391V392M185.5 391V392M186.5 390V391M187.5 390V391M188.5 389V391M189.5 391V392M190.5 392V394M191.5 394V395M192.5 395V396M193.5 396V397M194.5 397V398M195.5 398V399M196.5 399V400M197.5 399V400M198.5 399V400M199.5 398V399M200.5 397V398M201.5 396V397M202.5 396V397M203.5 397V398M204.5 398V399M205.5 399V400M206.5 399V400M207.5 399V400M208.5 399V400M209.5 399V400M210.5 399V400M211.5 398V400M212.5 396V398M213.5 393V396M214.5 391V393M215.5 388V391M216.5 384V388M217.5 380V384M218.5 376V380M219.5 373V376M220.5 370V373M221.5 369V370M222.5 367V369M223.5 366V367M224.5 366V367M225.5 367V368M226.5 367V368M227.5 367V368M228.5 367V368M229.5 367V368M230.5 366V367M231.5 365V366M232.5 364V365M233.5 363V364M234.5 362V363M235.5 363V364M236.5 364V365M237.5 365V366M238.5 365V366M239.5 366V370M240.5 370V373M241.5 373V376M242.5 376V379M243.5 379V382M244.5 382V385M245.5 385V388M246.5 388V391M247.5 391V394M248.5 394V397M249.5 397V400M250.5 400V402M251.5 402V403M252.5 403V404M253.5 404V406M254.5 406V407M255.5 407V409M256.5 409V410M257.5 410V412M258.5 412V414M259.5 414V415M260.5 415V417M261.5 417V419M262.5 419V420M263.5 420V422M264.5 422V423M265.5 422V423M266.5 423V424M267.5 423V424M268.5 424V425M269.5 425V426M270.5 425V426M271.5 426V427M272.5 427V428M273.5 428V429M274.5 429V430M275.5 430V431M276.5 431V432M277.5 432V433M278.5 433V434M279.5 434V435M280.5 435V436M281.5 436V437M282.5 436V437M283.5 434V436M284.5 433V434M285.5 432V433M286.5 431V432M287.5 429V431M288.5 428V429M289.5 427V428M290.5 425V427M291.5 424V425M292.5 422V424M293.5 421V422M294.5 420V421M295.5 418V420M296.5 417V418M297.5 415V417M298.5 413V415M299.5 411V413M300.5 409V411M301.5 407V409M302.5 405V407M303.5 403V405M304.5 401V403M305.5 400V401M306.5 398V400M307.5 396V398M308.5 395V396M309.5 394V395M310.5 393V394M311.5 392V393M312.5 392V393M313.5 392V393M314.5 392V393M315.5 393V394M316.5 393V394M317.5 392V393M318.5 392V393M319.5 392V393M320.5 392V393M321.5 392V393M322.5 389V392M323.5 385V389M324.5 382V385M325.5 378V382M326.5 374V378M327.5 370V374M328.5 365V370M329.5 357V365M330.5 349V357M331.5 342V349M332.5 334V342M333.5 326V334M334.5 319V326M335.5 311V319M336.5 303V311M337.5 296V303M338.5 287V296M339.5 278V287M340.5 268V278M341.5 259V268M342.5 248V259M343.5 237V248M344.5 227V237M345.5 218V227M346.5 211V218M347.5 201V211M348.5 192V201M349.5 185V192M350.5 177V185M351.5 172V177M352.5 167V172M353.5 162V167M354.5 156V162M355.5 150V156M356.5 146V150M357.5 145V146M358.5 143V145M359.5 142V143M360.5 140V142M361.5 139V140M362.5 138V139M363.5 136V138M364.5 135V136M365.5 134V135M366.5 133V134M367.5 132V133M368.5 131V132M369.5 130V131M370.5 130V132M371.5 132V133M372.5 133V134M373.5 134V135M374.5 135V137M375.5 137V138M376.5 138V140M377.5 140V142M378.5 142V145M379.5 145V148M380.5 148V150M381.5 150V151M382.5 151V152M383.5 151V152M384.5 150V151M385.5 150V151M386.5 149V150M387.5 149V150M388.5 148V149M389.5 148V149M390.5 148V149M391.5 149V150M392.5 149V150M393.5 150V151M394.5 151V152M395.5 151V152M396.5 152V153M397.5 153V155M398.5 155V156M399.5 156V158M400.5 158V160M401.5 160V161M402.5 161V163M403.5 163V164M404.5 164V165M405.5 164V165M406.5 164V165M407.5 164V165M408.5 164V165M409.5 163V164M410.5 163V164M411.5 162V163M412.5 162V163M413.5 162V163M414.5 163V164M415.5 163V164M416.5 163V164M417.5 163V164M418.5 163V164M419.5 162V163M420.5 162V163M421.5 161V162M422.5 160V161M423.5 160V161M424.5 158V160M425.5 157V158M426.5 156V157M427.5 154V156M428.5 152V154M429.5 150V152M430.5 147V150M431.5 145V147M432.5 143V145M433.5 141V143M434.5 140V141M435.5 138V140M436.5 136V138M437.5 134V136M438.5 133V134M439.5 131V133M440.5 130V131M441.5 126V130M442.5 123V126M443.5 120V123M444.5 117V120M445.5 114V117M446.5 111V114M447.5 108V111M448.5 104V108M449.5 101V104M450.5 99V101M451.5 98V99M452.5 96V98M453.5 94V96M454.5 92V94M455.5 90V92M456.5 88V90M457.5 86V88M458.5 85V86M459.5 83V85M460.5 81V83M461.5 80V81M462.5 79V80M463.5 77V79M464.5 76V77M465.5 74V76M466.5 73V74M467.5 74V75M468.5 75V76M469.5 76V78M470.5 78V79M471.5 79V81M472.5 81V82M473.5 82V84M474.5 84V86M475.5 86V87M476.5 87V89M477.5 89V90M478.5 90V92M479.5 92V93M480.5 93V94M481.5 94V96M482.5 96V97M483.5 97V99M484.5 99V101M485.5 101V103M486.5 103V105M487.5 105V106M488.5 106V108M489.5 108V109M490.5 108V109M491.5 107V108M492.5 107V108M493.5 107V108M494.5 106V107M495.5 106V107M496.5 105V106M497.5 104V105M498.5 103V104M499.5 101V103M500.5 99V101M501.5 97V99M502.5 95V97M503.5 94V95M504.5 92V94M505.5 91V92M506.5 90V91M507.5 90V91M508.5 89V90M509.5 89V92M510.5 92V96M511.5 96V99M512.5 99V103M513.5 103V106M514.5 106V110M515.5 110V113M516.5 113V117M517.5 117V120M518.5 120V124M519.5 124V127M520.5 127V131M521.5 131V134M522.5 134V137M523.5 137V140M524.5 140V143M525.5 143V146M526.5 146V150M527.5 150V155M528.5 155V160M529.5 160V165M530.5 165V169M531.5 169V174M532.5 174V178M533.5 178V182M534.5 182V185M535.5 185V189M536.5 189V192M537.5 192V194M538.5 194V195M539.5 194V195M540.5 195V196M541.5 196V197M542.5 196V197M543.5 196V197M544.5 195V196M545.5 195V196M546.5 195V196M547.5 194V196M548.5 193V194M549.5 192V193M550.5 190V192M551.5 189V190M552.5 187V189M553.5 186V187M554.5 184V186M555.5 183V184M556.5 182V183M557.5 181V182M558.5 180V181M559.5 179V180M560.5 179V180M561.5 178V179M562.5 178V179M563.5 178V179M564.5 179V180M565.5 179V180M566.5 179V180M567.5 180V181M568.5 180V181M569.5 181V182M570.5 182V183M571.5 182V183M572.5 181V182M573.5 180V181M574.5 179V180M575.5 178V179M576.5 177V178M577.5 176V177M578.5 176V177M579.5 175V176M580.5 175V176M581.5 175V176M582.5 175V176M583.5 175V176M584.5 175V176M585.5 173V175M586.5 172V173M587.5 171V172M588.5 170V171M589.5 168V170M590.5 165V168M591.5 163V165M592.5 161V163M593.5 159V161M594.5 157V159M595.5 155V157M596.5 153V155M597.5 151V153M598.5 150V151M599.5 150V151M600.5 149V150M601.5 149V150M602.5 149V150M603.5 149V150M604.5 149V150M605.5 148V149M606.5 148V149M607.5 148V149M608.5 147V148M609.5 146V147M610.5 144V146M611.5 143V144M612.5 142V143M613.5 141V142M614.5 140V141M615.5 138V140M616.5 137V138M617.5 136V137M618.5 136V137M619.5 135V136M620.5 136V137M621.5 137V138M622.5 138V139M623.5 139V140M624.5 139V140M625.5 139V140M626.5 139V140M627.5 140V141M628.5 140V141M629.5 140V141M630.5 140V141M631.5 140V141M632.5 140V141M633.5 141V142M634.5 141V142M635.5 142V143M636.5 143V144M637.5 143V144M638.5 143V144M639.5 144V145M640.5 144V145M641.5 144V145M642.5 145V146M643.5 146V147M644.5 147V148M645.5 148V149M646.5 148V149M647.5 148V149M648.5 148V149M649.5 147V148M650.5 146V147M651.5 145V146M652.5 144V145M653.5 145V146M654.5 145V146M655.5 145V146M656.5 146V147M657.5 146V148M658.5 148V149M659.5 149V151M660.5 151V152M661.5 152V153M662.5 153V154M663.5 154V155M664.5 154V155M665.5 155V156M666.5 156V158M667.5 158V161M668.5 161V163M669.5 163V166M670.5 166V169M671.5 169V172M672.5 172V175M673.5 175V177M674.5 177V180M675.5 180V182M676.5 182V184M677.5 184V186M678.5 186V188M679.5 188V190M680.5 190V192M681.5 192V194M682.5 194V196M683.5 196V198M684.5 198V200M685.5 200V202M686.5 202V205M687.5 205V208M688.5 208V211M689.5 211V214M690.5 214V219M691.5 219V224M692.5 224V229M693.5 229V235M694.5 235V238M695.5 238V241M696.5 241V244M697.5 244V247M698.5 247V250M699.5 250V254M700.5 254V258M701.5 258V261M702.5 261V265M703.5 265V268M704.5 268V272M705.5 272V276M706.5 276V279M707.5 279V283M708.5 283V287M709.5 287V291M710.5 291V294M711.5 294V296M712.5 296V299M713.5 299V301M714.5 301V303M715.5 303V306M716.5 306V307M717.5 307V308M718.5 307V308M719.5 308V309M720.5 309V310M721.5 310V311M722.5 310V311M723.5 310V311M724.5 311V312M725.5 311V312M726.5 312V314M727.5 314V315M728.5 315V317M729.5 317V318M730.5 317V318M731.5 318V319M732.5 318V319M733.5 319V320M734.5 320V321M735.5 321V322M736.5 322V323M737.5 323V325M738.5 325V326M739.5 325V326M740.5 325V326M741.5 325V326M742.5 325V326M743.5 324V325M744.5 323V324M745.5 323V324M746.5 322V323M747.5 321V322M748.5 320V321M749.5 319V320M750.5 319V320M751.5 318V319M752.5 317V318M753.5 316V317M754.5 315V316M755.5 314V315M756.5 313V314M757.5 312V313M758.5 310V312M759.5 309V310M760.5 307V309M761.5 305V307M762.5 302V305M763.5 299V302M764.5 296V299M765.5 292V296M766.5 288V292M767.5 283V288M768.5 279V283M769.5 274V279M770.5 269V274M771.5 264V269M772.5 259V264M773.5 254V259M774.5 249V254M775.5 244V249M776.5 238V244M777.5 233V238M778.5 227V233M779.5 221V227M780.5 215V221M781.5 210V215M782.5 204V210M783.5 198V204M784.5 192V198M785.5 186V192M786.5 181V186M787.5 175V181M788.5 170V175M789.5 165V170M790.5 159V165M791.5 152V159M792.5 146V152M793.5 143V146M794.5 139V143M795.5 136V139M796.5 132V136M797.5 129V132M798.5 126V129M799.5 123V126M800.5 121V123M801.5 120V121M802.5 118V120M803.5 116V118M804.5 115V116M805.5 114V115M806.5 113V114M807.5 112V113M808.5 111V112M809.5 110V111M810.5 109V110M811.5 108V109M812.5 108V109M813.5 107V108M814.5 106V107M815.5 106V107M816.5 106V107M817.5 105V106M818.5 105V106M819.5 105V106M820.5 105V106M821.5 106V107M822.5 106V107M823.5 107V109M824.5 109V111M825.5 111V114M826.5 114V116M827.5 116V119M828.5 119V121M829.5 121V124M830.5 124V127M831.5 127V130M832.5 130V133M833.5 133V137M834.5 137V140M835.5 140V144M836.5 144V148M837.5 148V153M838.5 153V157M839.5 157V162M840.5 162V166M841.5 166V171M842.5 171V175M843.5 175V180M844.5 180V184M845.5 184V189M846.5 189V193M847.5 193V198M848.5 198V203M849.5 203V207M850.5 207V210M851.5 210V212M852.5 212V213M853.5 213V214M854.5 214V215M855.5 215V216M856.5 216V217M857.5 216V217M858.5 216V217M859.5 217V218M860.5 216V218M861.5 214V216M862.5 213V214M863.5 211V213M864.5 208V211M865.5 206V208M866.5 204V206M867.5 201V204M868.5 199V201M869.5 197V199M870.5 194V197M871.5 192V194M872.5 190V192M873.5 187V190M874.5 185V187M875.5 183V185M876.5 181V183M877.5 179V181M878.5 178V179M879.5 176V178M880.5 174V176M881.5 173V174M882.5 171V173M883.5 170V171M884.5 168V170M885.5 167V168M886.5 166V167M887.5 166V167M888.5 166V167M889.5 166V167M890.5 166V167M891.5 167V168M892.5 168V169M893.5 168V169M894.5 169V170M895.5 169V171M896.5 171V173M897.5 173V175M898.5 175V177M899.5 177V179M900.5 179V181M901.5 181V183M902.5 183V185M903.5 185V187M904.5 187V189M905.5 189V191M906.5 191V193M907.5 193V195M908.5 195V197M909.5 197V199M910.5 199V201M911.5 201V202M912.5 202V204M913.5 204V206M914.5 206V207M915.5 207V209M916.5 209V211M917.5 211V212M918.5 212V213M919.5 213V214M920.5 214V215M921.5 215V216M922.5 215V216M923.5 216V217M924.5 216V217M925.5 217V218M926.5 215V218M927.5 213V215M928.5 212V213" stroke="#ff0000" stroke-width="1" fill="none" shape-rendering="crispEdges"/>
</g>
<rect x="4" y="150" width="4" height="4" fill="#fff" stroke="#ff0000" stroke-width="2" shape-rendering="crispEdges"/>
<rect x="1161" y="150" width="4" height="4" fill="#fff" stroke="#ff0000" stroke-width="2" shape-rendering="crispEdges"/>
<rect x="4" y="327" width="4" height="4" fill="#fff" stroke="#0000ff" stroke-width="2" shape-rendering="crispEdges"/>
<rect x="1161" y="327" width="4" height="4" fill="#fff" stroke="#0000ff" stroke-width="2" shape-rendering="crispEdges"/>
<rect x="4" y="425" width="4" height="4" fill="#fff" stroke="#0000ff" stroke-width="2" shape-rendering="crispEdges"/>
<rect x="1161" y="425" width="4" height="4" fill="#fff" stroke="#0000ff" stroke-width="2" shape-rendering="crispEdges"/>
<polygon points="4.0,537.0 4.0,562.6 10.6,556.0 18.6,545.0 24.0,537.4 27.9,533.4 30.5,532.0 37.0,534.7 43.8,537.4 47.7,542.7 55.7,546.7 63.7,548.0 70.3,552.0 77.0,553.3 82.0,549.0 86.0,542.7 88.9,540.0 92.8,541.4 98.0,546.7 103.4,548.0 111.4,546.7 119.4,546.7 127.3,548.0 135.3,548.0 143.0,546.7 148.5,542.7 153.8,538.7 159.0,536.0 164.5,533.4 172.4,532.9 183.0,534.7 188.0,537.4 193.6,539.0 199.0,537.4 207.0,537.4 211.0,534.7 214.9,528.0 221.5,524.0 224.0,528.0 228.0,532.0 233.4,534.7 237.4,537.4 244.0,541.4 252.0,544.5 261.0,547.5 268.0,546.7 275.9,544.5 283.8,541.4 289.0,537.4 294.4,534.7 302.4,532.0 310.0,532.0 316.0,532.9 323.9,530.7 327.9,520.0 331.8,506.9 335.8,497.6 341.0,491.0 347.7,487.8 353.0,488.8 357.0,496.0 362.0,502.9 369.0,506.9 375.6,514.8 382.0,522.8 390.0,526.0 398.0,530.0 403.4,534.7 408.8,535.5 416.7,533.4 424.7,530.7 432.6,530.0 437.9,526.8 443.0,522.8 448.5,521.5 453.8,522.8 459.0,523.0 464.5,525.4 469.8,532.0 475.0,536.0 484.0,539.5 489.7,534.7 496.0,533.9 501.6,532.9 505.6,531.0 509.5,534.7 512.0,544.0 517.5,550.6 524.0,554.6 530.8,555.9 538.7,553.0 546.7,549.0 552.0,544.0 558.6,540.0 563.9,542.7 570.6,546.7 575.9,540.0 581.0,536.0 587.8,532.9 594.4,530.0 598.4,532.9 605.0,533.4 610.0,530.9 617.0,528.6 622.7,530.9 628.0,536.5 634.0,539.0 639.6,536.0 646.6,533.7 653.7,534.5 659.0,540.7 666.0,545.0 673.0,547.8 680.0,548.0 686.0,553.0 693.0,559.6 700.0,562.0 708.6,561.9 717.0,559.0 725.5,556.0 734.0,554.0 742.0,549.0 748.0,543.6 756.5,539.0 763.5,535.0 767.7,525.0 773.0,516.8 779.0,509.8 786.0,506.0 791.7,504.0 797.0,506.0 803.0,511.0 808.6,515.0 815.6,516.8 821.0,519.6 825.5,526.7 829.7,536.5 834.0,543.6 839.6,550.6 846.6,553.0 852.0,552.0 857.9,547.8 863.5,539.0 867.7,536.0 876.0,533.7 884.6,533.7 891.7,535.0 896.0,539.0 903.0,543.6 910.0,546.0 915.6,544.0 922.7,543.6 928.0,543.0 929.0,537.0" fill="#c0c0c0" shape-rendering="crispEdges"/>
<path d="M4.5 563V564M5.5 562V563M6.5 562V563M7.5 562V563M8.5 561V562M9.5 561V562M10.5 561V562M11.5 560V561M12.5 560V561M13.5 559V560M14.5 558V559M15.5 557V558M16.5 557V558M17.5 556V557M18.5 555V556M19.5 554V555M20.5 552V554M21.5 551V552M22.5 550V551M23.5 549V550M24.5 548V549M25.5 547V548M26.5 545V547M27.5 544V545M28.5 543V544M29.5 542V543M30.5 541V542M31.5 540V541M32.5 539V540M33.5 538V539M34.5 538V539M35.5 537V538M36.5 536V537M37.5 536V537M38.5 535V536M39.5 535V536M40.5 535V536M41.5 535V536M42.5 535V536M43.5 535V536M44.5 535V536M45.5 536V537M46.5 536V537M47.5 537V538M48.5 537V538M49.5 538V539M50.5 538V539M51.5 539V540M52.5 540V541M53.5 540V541M54.5 541V542M55.5 541V542M56.5 542V543M57.5 543V544M58.5 543V544M59.5 544V545M60.5 544V545M61.5 544V545M62.5 545V546M63.5 545V546M64.5 546V547M65.5 546V547M66.5 546V547M67.5 547V548M68.5 547V548M69.5 547V548M70.5 548V549M71.5 548V549M72.5 548V549M73.5 549V550M74.5 549V550M75.5 549V550M76.5 550V551M77.5 550V551M78.5 550V551M79.5 550V551M80.5 551V552M81.5 551V552M82.5 551V552M83.5 550V551M84.5 550V551M85.5 549V550M86.5 548V549M87.5 548V549M88.5 547V548M89.5 547V548M90.5 546V547M91.5 546V547M92.5 545V546M93.5 544V545M94.5 544V545M95.5 544V545M96.5 543V544M97.5 542V543M98.5 542V543M99.5 542V543M100.5 542V543M101.5 543V544M102.5 543V544M103.5 543V544M104.5 544V545M105.5 544V545M106.5 544V545M107.5 544V545M108.5 544V545M109.5 545V546M110.5 545V546M111.5 545V546M112.5 546V547M113.5 546V547M114.5 546V547M115.5 546V547M116.5 546V547M117.5 546V547M118.5 546V547M119.5 546V547M120.5 546V547M121.5 547V548M122.5 547V548M123.5 547V548M124.5 547V548M125.5 547V548M126.5 547V548M127.5 547V548M128.5 547V548M129.5 547V548M130.5 547V548M131.5 547V548M132.5 547V548M133.5 547V548M134.5 547V548M135.5 547V548M136.5 547V548M137.5 547V548M138.5 547V548M139.5 547V548M140.5 547V548M141.5 547V548M142.5 547V548M143.5 547V548M144.5 547V548M145.5 546V547M146.5 546V547M147.5 545V546M148.5 545V546M149.5 544V545M150.5 544V545M151.5 544V545M152.5 543V544M153.5 543V544M154.5 542V543M155.5 542V543M156.5 541V542M157.5 541V542M158.5 540V541M159.5 540V541M160.5 540V541M161.5 539V540M162.5 538V539M163.5 538V539M164.5 538V539M165.5 537V538M166.5 536V537M167.5 536V537M168.5 536V537M169.5 536V537M170.5 535V536M171.5 535V536M172.5 535V536M173.5 534V535M174.5 534V535M175.5 534V535M176.5 534V535M177.5 534V535M178.5 534V535M179.5 533V534M180.5 533V534M181.5 533V534M182.5 533V534M183.5 533V534M184.5 533V534M185.5 533V534M186.5 534V535M187.5 534V535M188.5 534V535M189.5 534V535M190.5 534V535M191.5 535V536M192.5 535V536M193.5 535V536M194.5 535V536M195.5 536V537M196.5 536V537M197.5 536V537M198.5 537V538M199.5 537V538M200.5 537V538M201.5 537V538M202.5 537V538M203.5 537V538M204.5 537V538M205.5 538V539M206.5 538V539M207.5 538V539M208.5 537V538M209.5 537V538M210.5 537V538M211.5 536V537M212.5 536V537M213.5 535V536M214.5 535V536M215.5 535V536M216.5 534V535M217.5 533V534M218.5 533V534M219.5 532V533M220.5 532V533M221.5 531V532M222.5 530V531M223.5 530V531M224.5 530V531M225.5 529V530M226.5 529V530M227.5 529V530M228.5 528V529M229.5 528V529M230.5 528V529M231.5 529V530M232.5 529V530M233.5 529V530M234.5 530V531M235.5 530V531M236.5 531V532M237.5 532V533M238.5 532V533M239.5 533V534M240.5 534V535M241.5 535V536M242.5 535V536M243.5 536V537M244.5 537V538M245.5 537V538M246.5 538V539M247.5 538V539M248.5 539V540M249.5 540V541M250.5 540V541M251.5 541V542M252.5 541V542M253.5 542V543M254.5 542V543M255.5 542V543M256.5 543V544M257.5 543V544M258.5 543V544M259.5 544V545M260.5 544V545M261.5 544V545M262.5 545V546M263.5 545V546M264.5 545V546M265.5 545V546M266.5 545V546M267.5 545V546M268.5 546V547M269.5 546V547M270.5 546V547M271.5 546V547M272.5 546V547M273.5 546V547M274.5 546V547M275.5 546V547M276.5 546V547M277.5 546V547M278.5 546V547M279.5 546V547M280.5 546V547M281.5 546V547M282.5 545V546M283.5 545V546M284.5 545V546M285.5 545V546M286.5 544V545M287.5 544V545M288.5 544V545M289.5 544V545M290.5 543V544M291.5 542V543M292.5 542V543M293.5 541V542M294.5 540V541M295.5 540V541M296.5 539V540M297.5 539V540M298.5 538V539M299.5 537V538M300.5 537V538M301.5 536V537M302.5 535V536M303.5 534V535M304.5 534V535M305.5 534V535M306.5 534V535M307.5 534V535M308.5 534V535M309.5 534V535M310.5 534V535M311.5 533V534M312.5 533V534M313.5 533V534M314.5 533V534M315.5 533V534M316.5 533V534M317.5 533V534M318.5 533V534M319.5 533V534M320.5 533V534M321.5 533V534M322.5 533V534M323.5 533V534M324.5 533V534M325.5 533V534M326.5 532V533M327.5 531V532M328.5 529V531M329.5 528V529M330.5 527V528M331.5 526V527M332.5 524V526M333.5 522V524M334.5 520V522M335.5 518V520M336.5 516V518M337.5 514V516M338.5 512V514M339.5 510V512M340.5 508V510M341.5 507V508M342.5 505V507M343.5 503V505M344.5 501V503M345.5 500V501M346.5 499V500M347.5 498V499M348.5 496V498M349.5 495V496M350.5 494V495M351.5 493V494M352.5 492V493M353.5 492V493M354.5 492V493M355.5 492V493M356.5 492V493M357.5 492V493M358.5 492V493M359.5 492V493M360.5 492V493M361.5 492V493M362.5 493V495M363.5 495V496M364.5 496V497M365.5 497V498M366.5 498V499M367.5 499V500M368.5 500V502M369.5 502V503M370.5 503V504M371.5 504V505M372.5 505V506M373.5 506V507M374.5 507V508M375.5 507V508M376.5 508V509M377.5 509V510M378.5 510V511M379.5 511V512M380.5 512V513M381.5 513V514M382.5 514V515M383.5 515V516M384.5 516V517M385.5 517V518M386.5 518V519M387.5 519V520M388.5 520V521M389.5 521V522M390.5 521V522M391.5 522V523M392.5 523V524M393.5 524V525M394.5 524V525M395.5 525V526M396.5 525V526M397.5 525V526M398.5 526V527M399.5 526V527M400.5 527V528M401.5 527V528M402.5 528V529M403.5 528V529M404.5 529V530M405.5 529V530M406.5 530V531M407.5 530V531M408.5 531V532M409.5 531V532M410.5 532V533M411.5 532V533M412.5 533V534M413.5 533V534M414.5 534V535M415.5 534V535M416.5 534V535M417.5 534V535M418.5 534V535M419.5 534V535M420.5 534V535M421.5 534V535M422.5 534V535M423.5 534V535M424.5 533V534M425.5 533V534M426.5 533V534M427.5 533V534M428.5 532V533M429.5 532V533M430.5 532V533M431.5 532V533M432.5 531V532M433.5 531V532M434.5 531V532M435.5 531V532M436.5 530V531M437.5 530V531M438.5 530V531M439.5 530V531M440.5 529V530M441.5 529V530M442.5 528V529M443.5 528V529M444.5 528V529M445.5 527V528M446.5 527V528M447.5 526V527M448.5 526V527M449.5 525V526M450.5 525V526M451.5 524V525M452.5 524V525M453.5 523V524M454.5 523V524M455.5 523V524M456.5 523V524M457.5 522V523M458.5 522V523M459.5 522V523M460.5 522V523M461.5 522V523M462.5 522V523M463.5 522V523M464.5 522V523M465.5 522V523M466.5 523V524M467.5 523V524M468.5 523V524M469.5 524V525M470.5 525V526M471.5 525V526M472.5 526V527M473.5 527V528M474.5 527V528M475.5 528V529M476.5 529V530M477.5 529V530M478.5 530V531M479.5 531V532M480.5 532V533M481.5 532V533M482.5 533V534M483.5 534V535M484.5 534V535M485.5 535V536M486.5 536V537M487.5 536V537M488.5 537V538M489.5 537V538M490.5 537V538M491.5 537V538M492.5 536V537M493.5 536V537M494.5 536V537M495.5 536V537M496.5 536V537M497.5 536V537M498.5 536V537M499.5 536V537M500.5 535V536M501.5 535V536M502.5 535V536M503.5 535V536M504.5 535V536M505.5 534V535M506.5 534V535M507.5 533V534M508.5 533V534M509.5 533V534M510.5 534V535M511.5 534V535M512.5 535V536M513.5 535V536M514.5 536V537M515.5 536V537M516.5 537V539M517.5 539V540M518.5 540V541M519.5 541V542M520.5 542V543M521.5 543V545M522.5 545V546M523.5 546V547M524.5 547V548M525.5 548V549M526.5 549V550M527.5 550V551M528.5 551V552M529.5 552V553M530.5 552V553M531.5 553V554M532.5 553V554M533.5 554V555M534.5 554V555M535.5 555V556M536.5 555V556M537.5 555V556M538.5 555V556M539.5 555V556M540.5 555V556M541.5 555V556M542.5 554V555M543.5 554V555M544.5 554V555M545.5 553V554M546.5 553V554M547.5 552V553M548.5 552V553M549.5 551V552M550.5 551V552M551.5 550V551M552.5 550V551M553.5 549V550M554.5 548V549M555.5 548V549M556.5 547V548M557.5 547V548M558.5 546V547M559.5 546V547M560.5 545V546M561.5 545V546M562.5 544V545M563.5 544V545M564.5 543V544M565.5 543V544M566.5 543V544M567.5 543V544M568.5 542V543M569.5 542V543M570.5 542V543M571.5 542V543M572.5 542V543M573.5 542V543M574.5 542V543M575.5 542V543M576.5 542V543M577.5 541V542M578.5 541V542M579.5 541V542M580.5 541V542M581.5 541V542M582.5 540V541M583.5 540V541M584.5 539V540M585.5 538V539M586.5 538V539M587.5 537V538M588.5 537V538M589.5 536V537M590.5 536V537M591.5 535V536M592.5 535V536M593.5 534V535M594.5 534V535M595.5 533V534M596.5 533V534M597.5 533V534M598.5 533V534M599.5 533V534M600.5 533V534M601.5 533V534M602.5 533V534M603.5 533V534M604.5 533V534M605.5 533V534M606.5 533V534M607.5 532V533M608.5 532V533M609.5 532V533M610.5 532V533M611.5 532V533M612.5 532V533M613.5 532V533M614.5 532V533M615.5 532V533M616.5 532V533M617.5 532V533M618.5 532V533M619.5 532V533M620.5 532V533M621.5 532V533M622.5 532V533M623.5 532V533M624.5 532V533M625.5 532V533M626.5 532V533M627.5 532V533M628.5 533V534M629.5 533V534M630.5 534V535M631.5 534V535M632.5 535V536M633.5 535V536M634.5 536V537M635.5 536V537M636.5 536V537M637.5 537V538M638.5 537V538M639.5 538V539M640.5 538V539M641.5 538V539M642.5 537V538M643.5 537V538M644.5 537V538M645.5 537V538M646.5 537V538M647.5 536V537M648.5 536V537M649.5 536V537M650.5 536V537M651.5 536V537M652.5 535V536M653.5 535V536M654.5 535V536M655.5 535V536M656.5 535V536M657.5 536V537M658.5 536V537M659.5 536V537M660.5 536V537M661.5 537V538M662.5 537V538M663.5 538V539M664.5 539V540M665.5 539V540M666.5 540V541M667.5 541V542M668.5 541V542M669.5 542V543M670.5 542V543M671.5 543V544M672.5 543V544M673.5 544V545M674.5 544V545M675.5 544V545M676.5 545V546M677.5 545V546M678.5 546V547M679.5 546V547M680.5 546V547M681.5 546V547M682.5 547V548M683.5 547V548M684.5 547V548M685.5 548V549M686.5 548V549M687.5 549V550M688.5 549V550M689.5 550V551M690.5 551V552M691.5 551V552M692.5 552V553M693.5 553V554M694.5 554V555M695.5 554V555M696.5 555V556M697.5 556V557M698.5 556V557M699.5 557V558M700.5 558V559M701.5 558V559M702.5 558V559M703.5 559V560M704.5 559V560M705.5 560V561M706.5 560V561M707.5 560V561M708.5 561V562M709.5 561V562M710.5 561V562M711.5 561V562M712.5 561V562M713.5 561V562M714.5 561V562M715.5 561V562M716.5 561V562M717.5 561V562M718.5 560V561M719.5 560V561M720.5 560V561M721.5 559V560M722.5 559V560M723.5 559V560M724.5 558V559M725.5 558V559M726.5 558V559M727.5 558V559M728.5 557V558M729.5 557V558M730.5 557V558M731.5 557V558M732.5 556V557M733.5 556V557M734.5 556V557M735.5 555V556M736.5 555V556M737.5 555V556M738.5 554V555M739.5 554V555M740.5 553V554M741.5 553V554M742.5 553V554M743.5 552V553M744.5 552V553M745.5 551V552M746.5 551V552M747.5 550V551M748.5 549V550M749.5 549V550M750.5 548V549M751.5 548V549M752.5 547V548M753.5 546V547M754.5 546V547M755.5 545V546M756.5 545V546M757.5 544V545M758.5 543V544M759.5 543V544M760.5 542V543M761.5 542V543M762.5 541V542M763.5 540V541M764.5 540V541M765.5 539V540M766.5 538V539M767.5 537V538M768.5 536V537M769.5 535V536M770.5 534V535M771.5 533V534M772.5 532V533M773.5 531V532M774.5 529V531M775.5 528V529M776.5 527V528M777.5 526V527M778.5 525V526M779.5 524V525M780.5 522V524M781.5 521V522M782.5 520V521M783.5 519V520M784.5 517V519M785.5 516V517M786.5 515V516M787.5 514V515M788.5 513V514M789.5 512V513M790.5 511V512M791.5 510V511M792.5 509V510M793.5 508V509M794.5 508V509M795.5 507V508M796.5 507V508M797.5 507V508M798.5 507V508M799.5 506V507M800.5 506V507M801.5 506V507M802.5 507V508M803.5 507V508M804.5 507V508M805.5 507V508M806.5 508V509M807.5 508V509M808.5 509V510M809.5 509V510M810.5 510V511M811.5 510V511M812.5 511V512M813.5 511V512M814.5 512V513M815.5 513V514M816.5 513V514M817.5 514V515M818.5 514V515M819.5 515V516M820.5 516V517M821.5 516V517M822.5 517V518M823.5 517V518M824.5 518V519M825.5 519V520M826.5 520V521M827.5 521V522M828.5 522V523M829.5 523V524M830.5 524V525M831.5 525V526M832.5 526V528M833.5 528V529M834.5 529V531M835.5 531V533M836.5 533V535M837.5 535V536M838.5 536V538M839.5 538V539M840.5 539V541M841.5 541V542M842.5 542V544M843.5 544V545M844.5 545V546M845.5 546V547M846.5 547V548M847.5 548V549M848.5 548V549M849.5 549V550M850.5 550V551M851.5 551V552M852.5 551V552M853.5 551V552M854.5 551V552M855.5 551V552M856.5 551V552M857.5 551V552M858.5 551V552M859.5 551V552M860.5 550V551M861.5 550V551M862.5 550V551M863.5 549V550M864.5 549V550M865.5 548V549M866.5 547V548M867.5 546V547M868.5 546V547M869.5 545V546M870.5 544V545M871.5 543V544M872.5 542V543M873.5 542V543M874.5 541V542M875.5 540V541M876.5 539V540M877.5 538V539M878.5 538V539M879.5 537V538M880.5 537V538M881.5 536V537M882.5 536V537M883.5 535V536M884.5 535V536M885.5 535V536M886.5 535V536M887.5 535V536M888.5 535V536M889.5 535V536M890.5 535V536M891.5 535V536M892.5 535V536M893.5 535V536M894.5 535V536M895.5 535V536M896.5 535V536M897.5 536V537M898.5 536V537M899.5 537V538M900.5 537V538M901.5 538V539M902.5 538V539M903.5 539V540M904.5 539V540M905.5 540V541M906.5 540V541M907.5 541V542M908.5 541V542M909.5 541V542M910.5 542V543M911.5 542V543M912.5 543V544M913.5 543V544M914.5 544V545M915.5 544V545M916.5 544V545M917.5 544V545M918.5 544V545M919.5 544V545M920.5 544V545M921.5 544V545M922.5 544V545M923.5 544V545M924.5 544V545M925.5 544V545M926.5 544V545M927.5 542V545M928.5 541V542" stroke="#ff0000" stroke-width="1" fill="none" shape-rendering="crispEdges"/>
<line x1="5" y1="596.5" x2="1166" y2="596.5" stroke="#c0c0c0" stroke-width="1" stroke-dasharray="3 3" shape-rendering="crispEdges"/>
<line x1="5" y1="630.5" x2="1166" y2="630.5" stroke="#c0c0c0" stroke-width="1" stroke-dasharray="3 3" shape-rendering="crispEdges"/>
<path d="M4.5 628V630M5.5 626V628M6.5 623V626M7.5 622V623M8.5 622V623M9.5 622V623M10.5 621V624M11.5 618V621M12.5 616V618M13.5 614V616M14.5 613V614M15.5 612V613M16.5 611V613M17.5 613V615M18.5 615V616M19.5 612V615M20.5 609V612M21.5 607V609M22.5 604V607M23.5 603V604M24.5 604V605M25.5 605V606M26.5 605V606M27.5 605V606M28.5 604V605M29.5 604V607M30.5 607V610M31.5 610V613M32.5 613V614M33.5 612V613M34.5 612V613M35.5 613V614M36.5 614V615M37.5 615V616M38.5 615V616M39.5 616V617M40.5 616V617M41.5 617V619M42.5 619V622M43.5 622V624M44.5 624V625M45.5 623V624M46.5 622V623M47.5 621V622M48.5 620V621M49.5 620V621M50.5 621V622M51.5 621V623M52.5 623V624M53.5 624V625M54.5 625V626M55.5 623V625M56.5 622V623M57.5 620V622M58.5 619V620M59.5 619V620M60.5 618V619M61.5 618V619M62.5 619V620M63.5 619V620M64.5 620V623M65.5 623V626M66.5 626V629M67.5 629V630M68.5 628V630M69.5 626V628M70.5 625V626M71.5 626V627M72.5 626V627M73.5 626V627M74.5 626V627M75.5 625V626M76.5 621V626M77.5 616V621M78.5 615V616M79.5 615V616M80.5 615V616M81.5 613V615M82.5 611V613M83.5 609V611M84.5 608V609M85.5 607V608M86.5 607V608M87.5 607V609M88.5 609V611M89.5 611V613M90.5 613V616M91.5 616V617M92.5 617V619M93.5 619V620M94.5 620V621M95.5 621V622M96.5 622V623M97.5 622V623M98.5 623V624M99.5 624V625M100.5 625V626M101.5 623V625M102.5 621V623M103.5 619V621M104.5 618V619M105.5 617V618M106.5 618V619M107.5 619V620M108.5 619V620M109.5 620V621M110.5 620V621M111.5 620V621M112.5 620V621M113.5 620V621M114.5 620V621M115.5 621V622M116.5 622V623M117.5 621V623M118.5 620V621M119.5 620V621M120.5 621V622M121.5 622V623M122.5 621V622M123.5 621V622M124.5 621V623M125.5 623V626M126.5 626V627M127.5 623V626M128.5 621V623M129.5 618V621M130.5 617V618M131.5 618V619M132.5 619V620M133.5 620V621M134.5 620V621M135.5 621V622M136.5 621V622M137.5 622V623M138.5 622V624M139.5 619V622M140.5 616V619M141.5 614V616M142.5 613V614M143.5 613V614M144.5 613V614M145.5 612V613M146.5 611V612M147.5 611V613M148.5 613V614M149.5 613V615M150.5 610V613M151.5 608V610M152.5 607V609M153.5 609V611M154.5 611V613M155.5 613V615M156.5 615V616M157.5 614V615M158.5 613V614M159.5 612V613M160.5 610V612M161.5 609V610M162.5 607V609M163.5 606V607M164.5 605V606M165.5 606V608M166.5 608V610M167.5 610V611M168.5 610V611M169.5 611V612M170.5 612V613M171.5 611V612M172.5 610V611M173.5 609V610M174.5 609V610M175.5 609V610M176.5 610V611M177.5 611V612M178.5 612V613M179.5 613V614M180.5 613V614M181.5 613V614M182.5 613V614M183.5 612V613M184.5 611V612M185.5 611V612M186.5 612V614M187.5 614V615M188.5 615V618M189.5 618V622M190.5 622V623M191.5 620V623M192.5 618V620M193.5 617V618M194.5 616V617M195.5 615V616M196.5 611V615M197.5 608V611M198.5 607V608M199.5 608V611M200.5 611V613M201.5 613V614M202.5 613V614M203.5 614V615M204.5 614V615M205.5 614V615M206.5 613V614M207.5 612V613M208.5 611V612M209.5 609V611M210.5 607V609M211.5 604V607M212.5 602V604M213.5 599V602M214.5 598V599M215.5 599V601M216.5 601V603M217.5 603V604M218.5 602V603M219.5 602V603M220.5 602V603M221.5 603V605M222.5 605V610M223.5 610V615M224.5 615V616M225.5 616V617M226.5 616V617M227.5 616V617M228.5 615V616M229.5 614V615M230.5 614V615M231.5 613V614M232.5 613V615M233.5 615V616M234.5 616V617M235.5 617V619M236.5 619V620M237.5 619V620M238.5 620V621M239.5 620V621M240.5 620V621M241.5 620V621M242.5 619V620M243.5 618V619M244.5 618V619M245.5 618V619M246.5 619V620M247.5 620V621M248.5 621V622M249.5 621V622M250.5 621V622M251.5 621V622M252.5 621V622M253.5 620V621M254.5 620V621M255.5 620V621M256.5 620V622M257.5 622V624M258.5 624V627M259.5 627V629M260.5 627V630M261.5 622V627M262.5 619V622M263.5 618V619M264.5 618V619M265.5 618V619M266.5 618V619M267.5 618V619M268.5 617V618M269.5 617V618M270.5 617V618M271.5 618V620M272.5 620V621M273.5 620V621M274.5 620V621M275.5 620V621M276.5 621V622M277.5 622V623M278.5 623V624M279.5 623V624M280.5 622V624M281.5 616V622M282.5 611V616M283.5 610V611M284.5 608V610M285.5 606V608M286.5 605V606M287.5 604V605M288.5 605V606M289.5 606V607M290.5 606V607M291.5 606V607M292.5 606V607M293.5 607V609M294.5 609V610M295.5 608V610M296.5 607V608M297.5 606V607M298.5 606V607M299.5 605V606M300.5 605V606M301.5 604V605M302.5 605V606M303.5 606V607M304.5 607V608M305.5 608V609M306.5 609V610M307.5 610V611M308.5 610V611M309.5 611V612M310.5 611V612M311.5 612V613M312.5 611V612M313.5 610V611M314.5 610V611M315.5 611V612M316.5 612V613M317.5 611V612M318.5 610V611M319.5 609V610M320.5 607V609M321.5 606V610M322.5 604V611M323.5 592V604M324.5 591V592M325.5 591V592M326.5 591V592M327.5 591V592M328.5 591V592M329.5 588V591M330.5 586V588M331.5 585V586M332.5 584V585M333.5 584V585M334.5 583V584M335.5 583V584M336.5 584V585M337.5 584V585M338.5 584V585M339.5 584V585M340.5 584V585M341.5 584V585M342.5 583V584M343.5 582V583M344.5 582V583M345.5 582V583M346.5 583V584M347.5 583V584M348.5 583V584M349.5 583V584M350.5 583V584M351.5 584V585M352.5 585V586M353.5 586V588M354.5 588V590M355.5 590V596M356.5 596V598M357.5 598V599M358.5 598V599M359.5 599V601M360.5 601V602M361.5 600V601M362.5 599V600M363.5 598V599M364.5 597V598M365.5 596V597M366.5 596V597M367.5 597V599M368.5 599V600M369.5 600V601M370.5 601V602M371.5 602V604M372.5 604V606M373.5 605V607M374.5 604V605M375.5 604V605M376.5 605V606M377.5 606V608M378.5 608V611M379.5 611V613M380.5 613V615M381.5 614V616M382.5 611V614M383.5 609V611M384.5 608V609M385.5 608V609M386.5 607V608M387.5 607V608M388.5 606V608M389.5 608V609M390.5 609V610M391.5 610V611M392.5 610V611M393.5 610V611M394.5 609V610M395.5 610V611M396.5 611V612M397.5 612V613M398.5 613V614M399.5 613V614M400.5 613V614M401.5 614V616M402.5 616V618M403.5 618V620M404.5 620V621M405.5 615V620M406.5 612V615M407.5 611V612M408.5 611V612M409.5 610V611M410.5 609V610M411.5 610V611M412.5 611V612M413.5 611V612M414.5 610V611M415.5 609V610M416.5 608V609M417.5 609V610M418.5 610V611M419.5 609V610M420.5 608V609M421.5 607V608M422.5 607V608M423.5 607V608M424.5 607V608M425.5 606V608M426.5 605V606M427.5 604V605M428.5 603V605M429.5 605V607M430.5 607V608M431.5 608V609M432.5 607V608M433.5 607V608M434.5 606V607M435.5 605V606M436.5 604V605M437.5 603V604M438.5 601V603M439.5 600V601M440.5 598V600M441.5 597V598M442.5 596V597M443.5 596V597M444.5 596V597M445.5 595V596M446.5 595V596M447.5 595V596M448.5 594V595M449.5 595V597M450.5 597V599M451.5 599V603M452.5 603V604M453.5 602V604M454.5 601V602M455.5 600V601M456.5 599V600M457.5 599V600M458.5 598V599M459.5 598V599M460.5 598V599M461.5 598V599M462.5 597V602M463.5 602V607M464.5 607V612M465.5 612V614M466.5 614V617M467.5 617V620M468.5 620V621M469.5 617V620M470.5 615V617M471.5 614V616M472.5 616V617M473.5 617V619M474.5 618V620M475.5 617V618M476.5 616V617M477.5 615V616M478.5 615V616M479.5 615V616M480.5 615V616M481.5 615V616M482.5 615V617M483.5 617V619M484.5 618V620M485.5 614V618M486.5 611V614M487.5 610V611M488.5 609V610M489.5 608V609M490.5 608V609M491.5 607V608M492.5 608V609M493.5 608V609M494.5 608V609M495.5 609V610M496.5 610V611M497.5 611V613M498.5 613V614M499.5 612V614M500.5 609V612M501.5 608V609M502.5 607V608M503.5 606V607M504.5 605V606M505.5 605V606M506.5 604V605M507.5 605V610M508.5 610V616M509.5 616V622M510.5 622V628M511.5 628V630M512.5 630V631M513.5 630V631M514.5 630V631M515.5 630V631M516.5 630V631M517.5 629V630M518.5 629V630M519.5 628V629M520.5 627V628M521.5 627V629M522.5 629V630M523.5 628V630M524.5 627V628M525.5 626V627M526.5 626V627M527.5 627V628M528.5 628V629M529.5 628V629M530.5 627V628M531.5 626V627M532.5 624V626M533.5 622V624M534.5 621V622M535.5 621V623M536.5 623V624M537.5 623V624M538.5 622V623M539.5 622V623M540.5 622V623M541.5 622V623M542.5 623V624M543.5 623V624M544.5 621V623M545.5 620V621M546.5 618V620M547.5 617V618M548.5 616V617M549.5 615V616M550.5 615V616M551.5 611V615M552.5 610V611M553.5 609V610M554.5 610V611M555.5 611V612M556.5 610V611M557.5 609V610M558.5 609V612M559.5 612V615M560.5 615V617M561.5 617V618M562.5 618V620M563.5 620V621M564.5 621V622M565.5 621V622M566.5 621V622M567.5 621V623M568.5 623V624M569.5 624V625M570.5 622V626M571.5 615V622M572.5 612V615M573.5 611V612M574.5 610V611M575.5 609V610M576.5 610V611M577.5 611V612M578.5 610V611M579.5 609V610M580.5 609V610M581.5 610V611M582.5 609V610M583.5 609V610M584.5 608V609M585.5 608V609M586.5 607V608M587.5 607V608M588.5 607V608M589.5 607V608M590.5 608V609M591.5 606V608M592.5 605V606M593.5 604V605M594.5 605V608M595.5 608V612M596.5 612V613M597.5 613V614M598.5 613V614M599.5 614V615M600.5 613V614M601.5 612V613M602.5 612V613M603.5 611V612M604.5 610V612M605.5 612V615M606.5 610V616M607.5 604V610M608.5 603V604M609.5 604V605M610.5 605V606M611.5 606V607M612.5 606V607M613.5 606V607M614.5 606V607M615.5 606V607M616.5 605V606M617.5 605V606M618.5 604V608M619.5 608V612M620.5 612V614M621.5 614V616M622.5 616V618M623.5 618V619M624.5 618V619M625.5 618V619M626.5 619V620M627.5 618V619M628.5 618V619M629.5 618V619M630.5 618V619M631.5 619V621M632.5 617V622M633.5 612V617M634.5 611V612M635.5 611V612M636.5 611V612M637.5 611V612M638.5 610V611M639.5 610V611M640.5 609V610M641.5 608V609M642.5 608V609M643.5 608V609M644.5 608V609M645.5 607V608M646.5 607V608M647.5 608V610M648.5 610V612M649.5 612V613M650.5 613V614M651.5 614V615M652.5 614V615M653.5 615V617M654.5 617V619M655.5 619V622M656.5 622V623M657.5 623V624M658.5 624V625M659.5 624V625M660.5 625V626M661.5 625V626M662.5 625V626M663.5 623V626M664.5 620V623M665.5 616V620M666.5 615V617M667.5 617V621M668.5 621V623M669.5 623V625M670.5 625V626M671.5 625V626M672.5 624V625M673.5 623V624M674.5 622V623M675.5 622V623M676.5 621V622M677.5 620V621M678.5 619V620M679.5 617V619M680.5 616V618M681.5 618V622M682.5 622V625M683.5 625V627M684.5 627V629M685.5 629V630M686.5 630V631M687.5 630V631M688.5 631V632M689.5 632V633M690.5 632V633M691.5 633V634M692.5 634V635M693.5 634V635M694.5 635V636M695.5 635V636M696.5 635V636M697.5 634V635M698.5 633V635M699.5 632V633M700.5 631V632M701.5 630V632M702.5 632V633M703.5 632V633M704.5 631V632M705.5 630V631M706.5 629V630M707.5 629V630M708.5 629V630M709.5 629V630M710.5 629V630M711.5 629V630M712.5 629V630M713.5 630V631M714.5 630V631M715.5 631V632M716.5 632V633M717.5 631V632M718.5 630V631M719.5 629V630M720.5 628V629M721.5 628V629M722.5 628V629M723.5 627V628M724.5 626V627M725.5 627V629M726.5 629V630M727.5 629V631M728.5 628V629M729.5 626V628M730.5 625V626M731.5 625V626M732.5 626V627M733.5 627V628M734.5 628V629M735.5 628V629M736.5 628V629M737.5 626V628M738.5 625V626M739.5 624V627M740.5 627V628M741.5 620V628M742.5 614V620M743.5 613V614M744.5 612V613M745.5 611V612M746.5 610V611M747.5 609V610M748.5 610V611M749.5 610V611M750.5 610V611M751.5 611V612M752.5 611V612M753.5 611V612M754.5 610V611M755.5 611V612M756.5 612V613M757.5 612V613M758.5 611V612M759.5 609V611M760.5 608V609M761.5 607V608M762.5 605V607M763.5 600V605M764.5 596V600M765.5 595V596M766.5 594V595M767.5 592V594M768.5 591V592M769.5 591V592M770.5 591V592M771.5 591V592M772.5 590V591M773.5 589V590M774.5 588V589M775.5 587V588M776.5 586V587M777.5 586V587M778.5 587V588M779.5 587V588M780.5 586V587M781.5 586V587M782.5 586V587M783.5 586V587M784.5 587V588M785.5 587V588M786.5 586V587M787.5 586V587M788.5 585V586M789.5 585V586M790.5 584V585M791.5 584V585M792.5 584V585M793.5 585V586M794.5 585V586M795.5 586V587M796.5 586V587M797.5 586V587M798.5 586V589M799.5 589V594M800.5 594V596M801.5 596V597M802.5 596V597M803.5 597V598M804.5 597V598M805.5 597V598M806.5 597V598M807.5 598V599M808.5 598V599M809.5 597V598M810.5 596V597M811.5 595V596M812.5 595V596M813.5 594V595M814.5 594V595M815.5 594V595M816.5 594V595M817.5 594V595M818.5 595V596M819.5 596V597M820.5 596V597M821.5 597V602M822.5 602V608M823.5 608V613M824.5 613V619M825.5 619V622M826.5 622V624M827.5 624V626M828.5 626V627M829.5 626V627M830.5 627V628M831.5 626V627M832.5 625V626M833.5 625V628M834.5 628V630M835.5 630V632M836.5 632V633M837.5 631V633M838.5 629V631M839.5 628V629M840.5 628V629M841.5 628V629M842.5 627V628M843.5 626V627M844.5 625V626M845.5 626V627M846.5 627V628M847.5 627V629M848.5 626V627M849.5 622V626M850.5 619V622M851.5 618V619M852.5 618V619M853.5 618V619M854.5 618V619M855.5 618V619M856.5 618V619M857.5 618V619M858.5 616V620M859.5 612V616M860.5 610V612M861.5 608V610M862.5 607V608M863.5 608V610M864.5 610V611M865.5 606V610M866.5 605V606M867.5 605V606M868.5 604V607M869.5 607V612M870.5 612V613M871.5 613V614M872.5 612V613M873.5 611V612M874.5 610V611M875.5 609V610M876.5 608V609M877.5 609V611M878.5 611V612M879.5 612V614M880.5 614V615M881.5 613V614M882.5 612V613M883.5 611V612M884.5 611V612M885.5 610V611M886.5 610V611M887.5 610V612M888.5 612V613M889.5 613V614M890.5 614V615M891.5 615V616M892.5 615V616M893.5 615V616M894.5 615V617M895.5 617V621M896.5 621V622M897.5 621V622M898.5 621V622M899.5 621V622M900.5 622V623M901.5 623V624M902.5 622V623M903.5 621V622M904.5 620V621M905.5 621V622M906.5 622V623M907.5 622V623M908.5 623V624M909.5 622V623M910.5 622V623M911.5 621V622M912.5 619V621M913.5 616V619M914.5 615V616M915.5 614V615M916.5 615V616M917.5 616V617M918.5 617V618M919.5 617V618M920.5 617V618M921.5 617V618M922.5 617V618M923.5 617V618M924.5 617V618M925.5 617V618M926.5 616V617M927.5 616V617M928.5 616V617" stroke="#1e90ff" stroke-width="1" fill="none" shape-rendering="crispEdges"/>
</svg>
<div class="a" style="left:1167px;top:82px;width:2px;height:1px;background:#000"></div>
<div class="t ax" style="left:1172px;top:78px">0.92430</div>
<div class="a" style="left:1167px;top:115px;width:2px;height:1px;background:#000"></div>
<div class="t ax" style="left:1172px;top:111px">0.92160</div>
<div class="a" style="left:1167px;top:148px;width:2px;height:1px;background:#000"></div>
<div class="t ax" style="left:1172px;top:144px">0.91890</div>
<div class="a" style="left:1167px;top:181px;width:2px;height:1px;background:#000"></div>
<div class="t ax" style="left:1172px;top:177px">0.91615</div>
<div class="a" style="left:1167px;top:214px;width:2px;height:1px;background:#000"></div>
<div class="t ax" style="left:1172px;top:210px">0.91345</div>
<div class="a" style="left:1167px;top:247px;width:2px;height:1px;background:#000"></div>
<div class="t ax" style="left:1172px;top:243px">0.91075</div>
<div class="a" style="left:1167px;top:280px;width:2px;height:1px;background:#000"></div>
<div class="t ax" style="left:1172px;top:276px">0.90805</div>
<div class="a" style="left:1167px;top:313px;width:2px;height:1px;background:#000"></div>
<div class="t ax" style="left:1172px;top:309px">0.90535</div>
<div class="a" style="left:1167px;top:346px;width:2px;height:1px;background:#000"></div>
<div class="t ax" style="left:1172px;top:342px">0.90265</div>
<div class="a" style="left:1167px;top:379px;width:2px;height:1px;background:#000"></div>
<div class="t ax" style="left:1172px;top:375px">0.89990</div>
<div class="a" style="left:1167px;top:412px;width:2px;height:1px;background:#000"></div>
<div class="t ax" style="left:1172px;top:408px">0.89720</div>
<div class="a" style="left:1167px;top:445px;width:2px;height:1px;background:#000"></div>
<div class="t ax" style="left:1172px;top:441px">0.89450</div>
<div class="a" style="left:1167px;top:478px;width:2px;height:1px;background:#000"></div>
<div class="t ax" style="left:1172px;top:474px">0.89180</div>
<div class="lbl" style="top:43px;background:#ff0000"><span>0.92699</span></div>
<div class="lbl" style="top:146px;background:#ff0000"><span>0.91855</span></div>
<div class="lbl" style="top:206px;background:#000"><span>0.91369</span></div>
<div class="lbl" style="top:225px;background:#00ff00"><span>0.91208</span></div>
<div class="lbl" style="top:323px;background:#0000ff"><span>0.90405</span></div>
<div class="lbl" style="top:421px;background:#0000ff"><span>0.89602</span></div>
<div class="t ax" style="left:1170px;top:486px">0.006455</div>
<div class="t ax" style="left:1170px;top:533px">0.00</div>
<div class="t ax" style="left:1170px;top:557px">-0.003589</div>
<div class="a" style="left:1167px;top:537px;width:2px;height:1px;background:#000"></div>
<div class="t ax" style="left:1170px;top:573px">100</div>
<div class="t ax" style="left:1169px;top:593px">70</div>
<div class="t ax" style="left:1169px;top:627px">30</div>
<div class="t ax" style="left:1170px;top:646px">0</div>
<div class="t" style="left:19px;top:25px;font-size:10px;letter-spacing:-0.12px">USDCHF,H4</div>
<div class="t" style="left:80px;top:25px;font-size:10px;letter-spacing:-0.28px">0.91365 0.91373 0.91365 0.91369</div>
<div class="a" style="left:10px;top:28px;width:1px;height:1px;background:#000"></div>
<div class="a" style="left:9px;top:29px;width:3px;height:1px;background:#000"></div>
<div class="a" style="left:8px;top:30px;width:5px;height:1px;background:#000"></div>
<div class="a" style="left:7px;top:31px;width:7px;height:1px;background:#000"></div>
<div class="t sm" style="left:8px;top:488px">MACD(12,26,9) -0.000570 -0.000744</div>
<div class="t sm" style="left:8px;top:574px">RSI(14) 46.3124</div>
<div class="a" style="left:4px;top:657px;width:1px;height:3px;background:#000"></div>
<div class="t sm" style="left:3px;top:662px">11 May 2021</div>
<div class="a" style="left:68px;top:657px;width:1px;height:3px;background:#000"></div>
<div class="t sm" style="left:67px;top:662px">18 May 18:00</div>
<div class="a" style="left:132px;top:657px;width:1px;height:3px;background:#000"></div>
<div class="t sm" style="left:131px;top:662px">26 May 00:00</div>
<div class="a" style="left:196px;top:657px;width:1px;height:3px;background:#000"></div>
<div class="t sm" style="left:195px;top:662px">2 Jun 10:00</div>
<div class="a" style="left:260px;top:657px;width:1px;height:3px;background:#000"></div>
<div class="t sm" style="left:259px;top:662px">9 Jun 18:00</div>
<div class="a" style="left:324px;top:657px;width:1px;height:3px;background:#000"></div>
<div class="t sm" style="left:323px;top:662px">17 Jun 00:00</div>
<div class="a" style="left:388px;top:657px;width:1px;height:3px;background:#000"></div>
<div class="t sm" style="left:387px;top:662px">24 Jun 10:00</div>
<div class="a" style="left:452px;top:657px;width:1px;height:3px;background:#000"></div>
<div class="t sm" style="left:451px;top:662px">1 Jul 18:00</div>
<div class="a" style="left:516px;top:657px;width:1px;height:3px;background:#000"></div>
<div class="t sm" style="left:515px;top:662px">9 Jul 00:00</div>
<div class="a" style="left:580px;top:657px;width:1px;height:3px;background:#000"></div>
<div class="t sm" style="left:579px;top:662px">16 Jul 10:00</div>
<div class="a" style="left:644px;top:657px;width:1px;height:3px;background:#000"></div>
<div class="t sm" style="left:643px;top:662px">23 Jul 18:00</div>
<div class="a" style="left:708px;top:657px;width:1px;height:3px;background:#000"></div>
<div class="t sm" style="left:707px;top:662px">31 Jul 00:00</div>
<div class="a" style="left:772px;top:657px;width:1px;height:3px;background:#000"></div>
<div class="t sm" style="left:771px;top:662px">9 Aug 11:00</div>
<div class="a" style="left:836px;top:657px;width:1px;height:3px;background:#000"></div>
<div class="t sm" style="left:835px;top:662px">16 Aug 19:00</div>
<div class="a" style="left:900px;top:657px;width:1px;height:3px;background:#000"></div>
<div class="t sm" style="left:899px;top:662px">24 Aug 00:00</div>
<div class="a" style="left:0;top:677px;width:1207px;height:1px;background:#e0e0e0"></div>
<div class="a" style="left:0;top:680px;width:1207px;height:20px;background:#f0f0f0"></div>
<div class="a" style="left:0;top:679px;width:1207px;height:1px;background:#000"></div>
<div class="a" style="left:0;top:680px;width:1px;height:18px;background:#696969"></div>
<div class="a" style="left:201px;top:679px;width:86px;height:18px;background:#fff;border:1px solid #000;border-top:none"></div>
<div class="tab" style="left:17px;">EURUSD,H4</div>
<div class="tab" style="left:107px;">AUDUSD,<span style="letter-spacing:0.25px">Daily</span></div>
<div class="tab" style="left:212px;color:#000;">USDCHF,H4</div>
<div class="tab" style="left:299px;">USDCAD,<span style="letter-spacing:0.25px">Daily</span></div>
<div class="tab" style="left:402px;">USDCNH,<span style="letter-spacing:0.25px">Daily</span></div>
<div class="tab" style="left:509px;letter-spacing:-0.25px;">UKOil,H1</div>
<div class="tab" style="left:583px;letter-spacing:-0.25px;">DJ30,H1</div>
<div class="tab" style="left:653px;letter-spacing:-0.25px;">USDX,H1</div>
<div class="tab" style="left:728px;letter-spacing:-0.25px;">XAUUSD,H1</div>
<div class="tab" style="left:821px;letter-spacing:-0.25px;">GBPUSD,H1</div>
<div class="sep" style="left:97px"></div>
<div class="sep" style="left:393px"></div>
<div class="sep" style="left:497px"></div>
<div class="sep" style="left:573px"></div>
<div class="sep" style="left:641px"></div>
<div class="sep" style="left:717px"></div>
<div class="sep" style="left:809px"></div>
<div class="sep" style="left:901px"></div>
<div class="a" style="left:1183px;top:685px;width:0;height:0;border-top:3.5px solid transparent;border-bottom:3.5px solid transparent;border-right:3.5px solid #8a8a8a"></div>
<div class="a" style="left:1200px;top:685px;width:0;height:0;border-top:3.5px solid transparent;border-bottom:3.5px solid transparent;border-left:3.5px solid #8a8a8a"></div>
<div class="a" style="left:226px;top:40px;width:2px;height:20px;background:#fff"></div>
<div class="a" style="left:5px;top:40px;width:2px;height:20px;background:#fff"></div>
<div class="a" style="left:7px;top:41px;width:52px;height:24px;background:linear-gradient(#f45a5a,#e02a2a 60%,#d81f1f)"></div>
<div class="a" style="left:174px;top:41px;width:52px;height:24px;background:linear-gradient(#f45a5a,#e02a2a 60%,#d81f1f)"></div>
<div class="a" style="left:7px;top:65px;width:109px;height:33px;background:linear-gradient(#d92323,#c81414 50%,#a80000)"></div>
<div class="a" style="left:118px;top:65px;width:108px;height:33px;background:linear-gradient(#d92323,#c81414 50%,#a80000)"></div>
<div class="a" style="left:11px;top:64px;width:44px;height:1px;background:#8a0a0a"></div>
<div class="a" style="left:11px;top:65px;width:44px;height:1px;background:#f06a6a"></div>
<div class="a" style="left:178px;top:64px;width:44px;height:1px;background:#8a0a0a"></div>
<div class="a" style="left:178px;top:65px;width:44px;height:1px;background:#f06a6a"></div>
<div class="a" style="left:59px;top:40px;width:115px;height:25px;background:#fff"></div>
<div class="a" style="left:61px;top:41px;width:109px;height:21px;background:#fff;border:1px solid #b8b8c0"></div>
<div class="a" style="left:63px;top:43px;width:19px;height:19px;background:linear-gradient(#f4f4f4,#d0d0d4);border-right:1px solid #c0c0c8"></div>
<div class="a" style="left:151px;top:43px;width:19px;height:19px;background:linear-gradient(#f4f4f4,#d0d0d4);border-left:1px solid #c0c0c8"></div>
<div class="a" style="left:69px;top:50px;width:0;height:0;border-left:2.5px solid transparent;border-right:2.5px solid transparent;border-top:3px solid #4a5ec8"></div>
<div class="a" style="left:158px;top:50px;width:0;height:0;border-left:2.5px solid transparent;border-right:2.5px solid transparent;border-bottom:3px solid #4a5ec8"></div>
<div class="t" style="left:123px;top:46px;font-size:12.5px;color:#000">3.00</div>
<div class="t" style="left:19px;top:47px;font-size:11px;color:#fff">SELL</div>
<div class="t" style="left:187px;top:47px;font-size:11.5px;color:#fff">BUY</div>
<div class="t" style="left:27px;top:84px;font-size:12.3px;font-weight:bold;color:#fff">0.91</div>
<div class="t" style="left:137px;top:84px;font-size:12.3px;font-weight:bold;color:#fff">0.91</div>
<div class="t" style="left:55px;top:64px;font-size:34px;color:#fff;letter-spacing:-1.5px;-webkit-text-stroke:0.5px #c81616">37</div>
<div class="t" style="left:166px;top:64px;font-size:34px;color:#fff;letter-spacing:-1.5px;-webkit-text-stroke:0.5px #c81616">38</div>
<div class="t" style="left:95px;top:67px;font-size:11px;font-weight:bold;color:#fff">2</div>
<div class="t" style="left:205px;top:67px;font-size:11px;font-weight:bold;color:#fff">6</div>

</body></html>
